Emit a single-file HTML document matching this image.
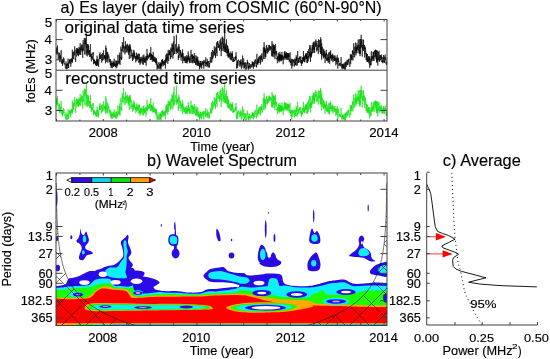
<!DOCTYPE html><html><head><meta charset="utf-8"><style>html,body{margin:0;padding:0;background:#fff;width:550px;height:359px;overflow:hidden}svg{will-change:transform}</style></head><body><svg width="550" height="359" viewBox="0 0 550 359" style="display:block;font-family:'Liberation Sans', sans-serif">
<rect width="550" height="359" fill="#fff"/>
<path d="M56.3,49.7 56.4,52.4 56.6,48.4 56.7,49.7 56.8,54.7 56.9,53.9 57.1,47.2 57.2,53.7 57.3,47.5 57.5,45.4 57.6,51.7 57.7,52.9 57.9,54.6 58.0,55.7 58.1,56.7 58.2,59.3 58.4,55.5 58.5,55.1 58.6,54.1 58.8,52.4 58.9,52.5 59.0,55.8 59.1,56.5 59.3,60.6 59.4,58.1 59.5,55.4 59.7,52.9 59.8,58.6 59.9,62.4 60.0,60.9 60.2,61.3 60.3,58.3 60.4,56.5 60.6,57.2 60.7,55.3 60.8,59.1 61.0,55.3 61.1,52.7 61.2,50.1 61.3,61.4 61.5,61.9 61.6,62.0 61.7,61.6 61.9,63.9 62.0,59.5 62.1,61.8 62.2,63.0 62.4,60.8 62.5,65.9 62.6,59.5 62.8,61.4 62.9,63.6 63.0,62.7 63.1,62.7 63.3,57.4 63.4,58.5 63.5,58.7 63.7,59.0 63.8,62.4 63.9,58.2 64.1,60.5 64.2,62.9 64.3,64.6 64.4,64.4 64.6,63.8 64.7,63.7 64.8,63.3 65.0,64.0 65.1,64.9 65.2,65.7 65.3,67.8 65.5,68.5 65.6,64.8 65.7,64.6 65.9,64.1 66.0,61.4 66.1,64.7 66.3,69.1 66.4,69.2 66.5,65.8 66.6,64.3 66.8,65.9 66.9,65.8 67.0,63.4 67.2,69.2 67.3,66.3 67.4,65.7 67.5,63.7 67.7,65.1 67.8,65.1 67.9,62.8 68.1,58.5 68.2,68.0 68.3,65.1 68.4,64.6 68.6,65.6 68.7,67.9 68.8,62.5 69.0,63.3 69.1,62.3 69.2,63.5 69.4,59.3 69.5,62.0 69.6,60.3 69.7,59.8 69.9,62.7 70.0,62.8 70.1,63.2 70.3,62.6 70.4,60.6 70.5,59.8 70.6,58.8 70.8,66.6 70.9,63.4 71.0,64.0 71.2,60.6 71.3,60.8 71.4,62.2 71.5,59.0 71.7,58.5 71.8,61.2 71.9,58.7 72.1,61.3 72.2,58.2 72.3,49.7 72.5,56.9 72.6,62.7 72.7,59.9 72.8,58.1 73.0,54.5 73.1,51.9 73.2,53.8 73.4,56.1 73.5,59.0 73.6,53.1 73.7,53.6 73.9,52.8 74.0,52.8 74.1,51.4 74.3,55.4 74.4,53.7 74.5,49.0 74.7,46.3 74.8,49.3 74.9,55.4 75.0,57.3 75.2,59.7 75.3,58.3 75.4,58.5 75.6,59.7 75.7,62.1 75.8,50.8 75.9,49.5 76.1,54.2 76.2,55.3 76.3,56.7 76.5,55.0 76.6,48.0 76.7,53.0 76.8,52.6 77.0,50.8 77.1,51.3 77.2,53.0 77.4,51.6 77.5,51.7 77.6,48.4 77.8,55.5 77.9,48.7 78.0,53.9 78.1,49.1 78.3,54.9 78.4,53.7 78.5,56.1 78.7,50.0 78.8,50.7 78.9,49.0 79.0,46.9 79.2,52.6 79.3,53.8 79.4,54.3 79.6,51.7 79.7,51.2 79.8,47.8 79.9,54.7 80.1,45.8 80.2,43.1 80.3,48.2 80.5,47.9 80.6,54.1 80.7,55.0 80.9,52.9 81.0,46.8 81.1,51.5 81.2,49.2 81.4,46.2 81.5,44.7 81.6,48.1 81.8,49.3 81.9,49.4 82.0,50.0 82.1,47.2 82.3,45.0 82.4,44.7 82.5,47.4 82.7,57.9 82.8,48.8 82.9,51.4 83.1,40.1 83.2,43.2 83.3,46.7 83.4,50.3 83.6,48.5 83.7,48.6 83.8,47.9 84.0,43.2 84.1,43.2 84.2,44.0 84.3,37.9 84.5,46.1 84.6,46.7 84.7,54.4 84.9,52.0 85.0,48.5 85.1,40.9 85.2,38.0 85.4,44.3 85.5,39.7 85.6,41.2 85.8,46.0 85.9,48.7 86.0,54.5 86.2,55.3 86.3,47.1 86.4,33.5 86.5,47.5 86.7,44.3 86.8,53.3 86.9,53.4 87.1,50.4 87.2,56.0 87.3,56.4 87.4,51.7 87.6,48.3 87.7,44.0 87.8,50.1 88.0,51.4 88.1,44.4 88.2,54.8 88.3,49.8 88.5,45.9 88.6,45.5 88.7,49.0 88.9,52.5 89.0,50.6 89.1,55.2 89.3,53.6 89.4,50.0 89.5,52.3 89.6,53.5 89.8,57.2 89.9,56.0 90.0,53.4 90.2,57.0 90.3,51.1 90.4,44.2 90.5,52.8 90.7,52.8 90.8,55.2 90.9,54.6 91.1,54.2 91.2,59.7 91.3,61.4 91.5,56.5 91.6,58.5 91.7,54.1 91.8,53.6 92.0,56.4 92.1,56.6 92.2,58.5 92.4,56.4 92.5,57.7 92.6,59.8 92.7,59.7 92.9,54.5 93.0,52.3 93.1,54.6 93.3,52.5 93.4,57.7 93.5,64.2 93.6,62.5 93.8,59.0 93.9,61.0 94.0,59.8 94.2,63.5 94.3,60.0 94.4,61.0 94.6,63.0 94.7,59.8 94.8,63.2 94.9,61.7 95.1,63.3 95.2,63.3 95.3,62.1 95.5,65.0 95.6,61.1 95.7,63.2 95.8,62.4 96.0,63.4 96.1,65.1 96.2,65.9 96.4,64.7 96.5,65.9 96.6,59.3 96.7,64.2 96.9,64.4 97.0,63.9 97.1,55.7 97.3,62.6 97.4,64.8 97.5,59.4 97.7,62.4 97.8,63.2 97.9,65.9 98.0,62.0 98.2,58.9 98.3,61.4 98.4,61.9 98.6,66.7 98.7,64.2 98.8,63.3 98.9,62.2 99.1,61.6 99.2,59.3 99.3,56.1 99.5,53.9 99.6,59.2 99.7,57.4 99.9,58.9 100.0,52.3 100.1,56.4 100.2,56.0 100.4,58.6 100.5,58.4 100.6,58.9 100.8,57.4 100.9,55.9 101.0,55.0 101.1,56.4 101.3,57.7 101.4,55.3 101.5,54.2 101.7,62.6 101.8,59.0 101.9,60.1 102.0,59.2 102.2,59.3 102.3,57.4 102.4,56.8 102.6,60.8 102.7,53.1 102.8,56.7 103.0,54.2 103.1,54.6 103.2,53.9 103.3,52.6 103.5,50.3 103.6,50.7 103.7,59.7 103.9,57.5 104.0,58.7 104.1,55.5 104.2,55.7 104.4,57.2 104.5,55.0 104.6,58.3 104.8,57.0 104.9,56.8 105.0,56.1 105.1,55.5 105.3,60.6 105.4,56.3 105.5,63.4 105.7,57.8 105.8,45.5 105.9,58.8 106.1,49.4 106.2,48.0 106.3,54.3 106.4,55.4 106.6,58.9 106.7,59.3 106.8,62.1 107.0,58.8 107.1,53.1 107.2,51.8 107.3,58.6 107.5,57.2 107.6,59.3 107.7,52.4 107.9,62.7 108.0,59.2 108.1,59.4 108.3,57.8 108.4,55.2 108.5,54.5 108.6,54.6 108.8,56.9 108.9,57.4 109.0,56.6 109.2,57.8 109.3,59.4 109.4,62.0 109.5,59.3 109.7,59.4 109.8,58.9 109.9,60.6 110.1,62.5 110.2,62.2 110.3,65.1 110.4,59.3 110.6,62.8 110.7,64.1 110.8,65.8 111.0,63.6 111.1,63.7 111.2,68.1 111.4,63.2 111.5,62.5 111.6,65.2 111.7,66.6 111.9,60.7 112.0,64.4 112.1,66.4 112.3,68.2 112.4,66.1 112.5,65.8 112.6,62.8 112.8,63.8 112.9,64.3 113.0,63.0 113.2,66.6 113.3,65.4 113.4,61.5 113.5,66.4 113.7,66.9 113.8,62.3 113.9,62.9 114.1,66.3 114.2,58.7 114.3,65.0 114.5,65.8 114.6,64.6 114.7,63.4 114.8,64.2 115.0,65.4 115.1,64.3 115.2,65.9 115.4,64.5 115.5,67.0 115.6,64.7 115.7,60.5 115.9,66.0 116.0,66.8 116.1,68.3 116.3,67.8 116.4,61.6 116.5,60.7 116.7,64.2 116.8,63.8 116.9,67.2 117.0,61.1 117.2,61.0 117.3,64.7 117.4,65.7 117.6,63.1 117.7,65.2 117.8,62.3 117.9,54.7 118.1,60.2 118.2,61.9 118.3,60.9 118.5,62.1 118.6,63.5 118.7,63.8 118.8,61.1 119.0,60.6 119.1,59.7 119.2,55.1 119.4,55.1 119.5,57.3 119.6,63.5 119.8,52.5 119.9,58.4 120.0,65.0 120.1,60.9 120.3,56.8 120.4,58.5 120.5,57.4 120.7,57.6 120.8,53.9 120.9,46.6 121.0,50.9 121.2,49.3 121.3,51.3 121.4,56.0 121.6,60.1 121.7,57.3 121.8,58.5 121.9,50.9 122.1,47.6 122.2,42.1 122.3,42.8 122.5,43.9 122.6,43.8 122.7,51.5 122.9,48.4 123.0,45.0 123.1,47.3 123.2,48.5 123.4,45.0 123.5,41.5 123.6,37.0 123.8,49.0 123.9,52.6 124.0,51.1 124.1,47.8 124.3,48.2 124.4,48.2 124.5,46.5 124.7,49.8 124.8,50.4 124.9,54.3 125.1,53.2 125.2,49.2 125.3,43.9 125.4,41.2 125.6,46.2 125.7,48.6 125.8,45.8 126.0,52.4 126.1,50.1 126.2,46.9 126.3,44.9 126.5,47.2 126.6,48.9 126.7,48.9 126.9,51.1 127.0,52.3 127.1,46.6 127.2,43.7 127.4,47.6 127.5,50.5 127.6,50.4 127.8,50.1 127.9,44.7 128.0,49.9 128.2,52.6 128.3,53.1 128.4,51.8 128.5,45.9 128.7,48.9 128.8,55.0 128.9,49.9 129.1,50.6 129.2,46.4 129.3,59.1 129.4,54.1 129.6,44.5 129.7,51.7 129.8,50.1 130.0,48.1 130.1,47.2 130.2,44.5 130.3,51.2 130.5,47.4 130.6,53.2 130.7,54.4 130.9,58.2 131.0,55.7 131.1,55.0 131.3,56.4 131.4,55.2 131.5,51.2 131.6,49.5 131.8,50.2 131.9,51.4 132.0,54.4 132.2,54.0 132.3,56.0 132.4,54.9 132.5,61.0 132.7,58.6 132.8,58.6 132.9,52.9 133.1,58.9 133.2,59.9 133.3,56.9 133.5,56.7 133.6,55.9 133.7,53.5 133.8,49.8 134.0,58.4 134.1,51.4 134.2,57.0 134.4,55.2 134.5,56.1 134.6,52.9 134.7,56.1 134.9,57.4 135.0,57.7 135.1,58.3 135.3,56.4 135.4,58.5 135.5,56.3 135.6,58.4 135.8,62.4 135.9,58.9 136.0,57.6 136.2,58.9 136.3,54.8 136.4,52.6 136.6,59.9 136.7,60.8 136.8,59.6 136.9,56.3 137.1,57.8 137.2,55.2 137.3,58.3 137.5,57.1 137.6,56.3 137.7,60.2 137.8,56.1 138.0,53.8 138.1,58.9 138.2,53.7 138.4,58.6 138.5,57.7 138.6,62.6 138.7,61.6 138.9,61.8 139.0,61.5 139.1,62.2 139.3,60.3 139.4,58.7 139.5,53.8 139.7,62.5 139.8,59.2 139.9,60.3 140.0,64.9 140.2,62.6 140.3,59.8 140.4,57.2 140.6,61.2 140.7,63.2 140.8,63.5 140.9,59.9 141.1,58.6 141.2,60.6 141.3,61.0 141.5,56.8 141.6,57.5 141.7,57.4 141.9,61.6 142.0,62.4 142.1,60.0 142.2,59.1 142.4,58.4 142.5,58.3 142.6,61.4 142.8,64.3 142.9,55.4 143.0,59.2 143.1,62.4 143.3,64.8 143.4,64.6 143.5,63.8 143.7,58.0 143.8,59.2 143.9,54.6 144.0,61.4 144.2,57.1 144.3,61.6 144.4,59.9 144.6,60.5 144.7,62.6 144.8,60.9 145.0,58.8 145.1,60.9 145.2,62.8 145.3,59.4 145.5,57.9 145.6,59.8 145.7,60.7 145.9,56.1 146.0,59.0 146.1,65.7 146.2,63.2 146.4,55.8 146.5,56.3 146.6,57.3 146.8,59.3 146.9,57.0 147.0,48.9 147.1,58.3 147.3,58.3 147.4,60.5 147.5,56.2 147.7,54.3 147.8,57.2 147.9,56.8 148.1,57.7 148.2,56.2 148.3,57.5 148.4,57.5 148.6,57.4 148.7,58.7 148.8,58.2 149.0,54.9 149.1,56.8 149.2,55.3 149.3,57.2 149.5,52.8 149.6,56.4 149.7,55.0 149.9,55.9 150.0,53.2 150.1,55.1 150.3,58.1 150.4,60.0 150.5,58.8 150.6,53.7 150.8,47.1 150.9,52.8 151.0,56.3 151.2,54.7 151.3,58.5 151.4,60.0 151.5,53.8 151.7,58.6 151.8,57.1 151.9,57.1 152.1,56.6 152.2,54.9 152.3,61.8 152.4,55.3 152.6,56.9 152.7,55.3 152.8,59.4 153.0,60.6 153.1,57.5 153.2,51.9 153.4,56.7 153.5,57.7 153.6,61.2 153.7,57.7 153.9,56.2 154.0,61.4 154.1,58.9 154.3,61.8 154.4,61.3 154.5,58.9 154.6,57.0 154.8,57.4 154.9,58.0 155.0,59.8 155.2,59.7 155.3,61.4 155.4,60.9 155.5,62.7 155.7,57.6 155.8,62.7 155.9,59.2 156.1,60.9 156.2,64.7 156.3,60.4 156.5,58.3 156.6,62.9 156.7,63.8 156.8,61.3 157.0,63.6 157.1,69.5 157.2,63.9 157.4,67.0 157.5,67.5 157.6,66.0 157.7,65.4 157.9,66.2 158.0,65.5 158.1,69.1 158.3,67.2 158.4,66.3 158.5,66.3 158.7,67.9 158.8,63.1 158.9,63.7 159.0,62.1 159.2,64.4 159.3,64.9 159.4,65.2 159.6,64.0 159.7,66.7 159.8,69.2 159.9,64.1 160.1,66.5 160.2,67.6 160.3,68.6 160.5,64.0 160.6,62.3 160.7,67.2 160.8,63.7 161.0,69.5 161.1,68.1 161.2,63.6 161.4,66.3 161.5,62.9 161.6,62.1 161.8,60.4 161.9,64.7 162.0,60.2 162.1,61.8 162.3,59.0 162.4,59.4 162.5,63.7 162.7,59.5 162.8,60.9 162.9,66.5 163.0,65.8 163.2,62.5 163.3,62.9 163.4,61.1 163.6,62.2 163.7,65.3 163.8,63.7 163.9,64.3 164.1,61.8 164.2,62.1 164.3,62.2 164.5,64.9 164.6,60.2 164.7,60.7 164.9,61.7 165.0,62.9 165.1,59.7 165.2,59.7 165.4,68.5 165.5,66.0 165.6,59.9 165.8,57.4 165.9,54.7 166.0,62.1 166.1,62.8 166.3,58.8 166.4,59.9 166.5,57.0 166.7,61.3 166.8,53.6 166.9,57.4 167.1,59.7 167.2,53.6 167.3,54.5 167.4,57.4 167.6,56.9 167.7,62.3 167.8,63.8 168.0,54.5 168.1,50.1 168.2,52.4 168.3,55.2 168.5,55.6 168.6,56.3 168.7,61.0 168.9,53.1 169.0,55.2 169.1,49.8 169.2,54.2 169.4,54.6 169.5,52.7 169.6,50.6 169.8,54.5 169.9,55.2 170.0,51.4 170.2,52.2 170.3,51.8 170.4,51.3 170.5,59.2 170.7,55.8 170.8,57.7 170.9,47.6 171.1,56.2 171.2,57.1 171.3,49.2 171.4,50.5 171.6,48.4 171.7,47.4 171.8,47.3 172.0,43.4 172.1,46.2 172.2,51.7 172.3,51.6 172.5,46.8 172.6,44.7 172.7,54.9 172.9,58.6 173.0,55.2 173.1,48.1 173.3,49.2 173.4,41.6 173.5,55.3 173.6,53.9 173.8,52.8 173.9,50.1 174.0,35.8 174.2,36.5 174.3,50.6 174.4,51.6 174.5,54.0 174.7,49.5 174.8,48.9 174.9,49.0 175.1,47.3 175.2,45.8 175.3,45.9 175.5,44.3 175.6,44.5 175.7,48.7 175.8,51.1 176.0,50.5 176.1,49.3 176.2,54.1 176.4,34.7 176.5,41.8 176.6,48.7 176.7,51.8 176.9,48.2 177.0,49.7 177.1,50.4 177.3,49.1 177.4,50.3 177.5,53.0 177.6,49.6 177.8,50.7 177.9,49.9 178.0,46.7 178.2,50.0 178.3,60.1 178.4,55.9 178.6,55.4 178.7,58.1 178.8,43.9 178.9,50.2 179.1,46.4 179.2,49.7 179.3,51.4 179.5,51.3 179.6,49.7 179.7,51.9 179.8,55.7 180.0,57.5 180.1,50.0 180.2,50.0 180.4,55.4 180.5,53.2 180.6,50.5 180.7,52.4 180.9,52.4 181.0,55.7 181.1,60.6 181.3,56.1 181.4,55.9 181.5,54.4 181.7,57.0 181.8,54.9 181.9,52.7 182.0,57.3 182.2,55.6 182.3,55.7 182.4,57.0 182.6,49.4 182.7,63.3 182.8,52.9 182.9,54.1 183.1,53.6 183.2,54.0 183.3,54.3 183.5,58.2 183.6,56.7 183.7,59.8 183.9,60.8 184.0,58.2 184.1,60.9 184.2,59.9 184.4,59.6 184.5,58.0 184.6,60.1 184.8,60.9 184.9,56.1 185.0,58.9 185.1,62.8 185.3,57.9 185.4,56.6 185.5,58.7 185.7,62.1 185.8,62.7 185.9,60.7 186.0,57.1 186.2,57.5 186.3,57.5 186.4,63.0 186.6,62.6 186.7,58.5 186.8,55.1 187.0,59.5 187.1,63.5 187.2,59.8 187.3,57.2 187.5,61.7 187.6,61.6 187.7,57.3 187.9,58.9 188.0,56.3 188.1,59.5 188.2,51.4 188.4,56.5 188.5,56.8 188.6,54.5 188.8,59.9 188.9,57.5 189.0,60.7 189.1,59.2 189.3,61.8 189.4,58.2 189.5,63.1 189.7,59.1 189.8,59.9 189.9,56.5 190.1,56.8 190.2,56.3 190.3,62.8 190.4,61.4 190.6,59.1 190.7,57.8 190.8,57.6 191.0,49.8 191.1,53.8 191.2,56.4 191.3,56.0 191.5,54.5 191.6,62.8 191.7,62.6 191.9,62.0 192.0,55.5 192.1,55.6 192.3,54.7 192.4,59.1 192.5,54.6 192.6,56.8 192.8,63.3 192.9,60.1 193.0,62.8 193.2,58.1 193.3,61.0 193.4,58.2 193.5,55.9 193.7,58.0 193.8,56.5 193.9,55.9 194.1,57.8 194.2,58.4 194.3,53.1 194.4,62.8 194.6,57.7 194.7,57.2 194.8,57.2 195.0,58.5 195.1,62.9 195.2,61.1 195.4,63.0 195.5,64.8 195.6,63.5 195.7,64.2 195.9,55.3 196.0,60.4 196.1,60.2 196.3,58.4 196.4,64.3 196.5,65.3 196.6,60.3 196.8,61.6 196.9,56.2 197.0,56.6 197.2,59.7 197.3,61.6 197.4,59.6 197.5,65.6 197.7,58.4 197.8,57.1 197.9,60.3 198.1,63.7 198.2,60.9 198.3,66.1 198.5,63.6 198.6,64.2 198.7,64.9 198.8,63.0 199.0,60.5 199.1,61.4 199.2,65.3 199.4,66.7 199.5,64.9 199.6,69.5 199.7,63.1 199.9,64.2 200.0,63.0 200.1,67.5 200.3,66.9 200.4,61.1 200.5,62.2 200.7,60.9 200.8,65.3 200.9,63.4 201.0,66.1 201.2,67.3 201.3,63.2 201.4,62.6 201.6,64.6 201.7,68.7 201.8,63.9 201.9,63.5 202.1,62.2 202.2,60.9 202.3,64.1 202.5,64.8 202.6,63.7 202.7,63.0 202.8,61.7 203.0,63.2 203.1,63.9 203.2,65.1 203.4,60.3 203.5,65.6 203.6,65.3 203.8,68.6 203.9,62.7 204.0,61.7 204.1,62.7 204.3,61.9 204.4,62.3 204.5,62.3 204.7,63.1 204.8,60.1 204.9,63.4 205.0,65.1 205.2,66.3 205.3,65.3 205.4,66.0 205.6,62.2 205.7,60.2 205.8,57.3 205.9,64.3 206.1,62.3 206.2,62.8 206.3,63.1 206.5,64.1 206.6,62.5 206.7,66.5 206.9,66.7 207.0,65.8 207.1,63.0 207.2,58.9 207.4,64.7 207.5,65.8 207.6,61.8 207.8,62.5 207.9,61.2 208.0,65.7 208.1,67.4 208.3,65.8 208.4,63.0 208.5,61.8 208.7,61.0 208.8,61.5 208.9,65.0 209.1,66.7 209.2,67.7 209.3,65.2 209.4,66.7 209.6,63.2 209.7,64.4 209.8,61.2 210.0,61.0 210.1,61.7 210.2,60.2 210.3,57.0 210.5,60.6 210.6,60.1 210.7,62.6 210.9,60.7 211.0,61.8 211.1,62.0 211.2,61.7 211.4,51.9 211.5,60.2 211.6,62.7 211.8,61.9 211.9,61.7 212.0,61.0 212.2,58.2 212.3,57.3 212.4,52.2 212.5,50.0 212.7,59.3 212.8,56.8 212.9,55.4 213.1,57.1 213.2,57.4 213.3,54.7 213.4,54.3 213.6,51.3 213.7,51.6 213.8,55.6 214.0,55.2 214.1,51.6 214.2,47.9 214.3,46.2 214.5,53.8 214.6,51.1 214.7,49.9 214.9,55.1 215.0,54.3 215.1,55.2 215.3,55.8 215.4,53.0 215.5,58.1 215.6,52.8 215.8,48.1 215.9,50.5 216.0,46.9 216.2,50.1 216.3,53.3 216.4,43.4 216.5,42.5 216.7,48.4 216.8,51.6 216.9,51.5 217.1,56.1 217.2,47.0 217.3,42.8 217.5,41.5 217.6,43.3 217.7,44.4 217.8,41.1 218.0,46.2 218.1,47.9 218.2,47.1 218.4,45.8 218.5,47.4 218.6,43.7 218.7,44.0 218.9,44.4 219.0,47.3 219.1,45.1 219.3,45.6 219.4,50.4 219.5,50.7 219.6,45.2 219.8,44.9 219.9,40.3 220.0,43.6 220.2,49.1 220.3,49.0 220.4,45.4 220.6,38.7 220.7,42.8 220.8,42.6 220.9,49.5 221.1,56.1 221.2,53.8 221.3,53.6 221.5,47.4 221.6,46.3 221.7,43.2 221.8,50.5 222.0,40.2 222.1,36.9 222.2,43.5 222.4,42.0 222.5,43.9 222.6,37.3 222.7,36.7 222.9,46.7 223.0,51.0 223.1,48.5 223.3,46.9 223.4,43.9 223.5,44.9 223.7,48.2 223.8,38.6 223.9,44.8 224.0,47.9 224.2,51.8 224.3,47.0 224.4,48.6 224.6,45.1 224.7,32.1 224.8,47.8 224.9,51.7 225.1,51.9 225.2,50.2 225.3,45.8 225.5,50.6 225.6,43.6 225.7,52.1 225.8,49.3 226.0,51.9 226.1,52.9 226.2,51.8 226.4,47.8 226.5,39.3 226.6,49.6 226.8,51.3 226.9,53.3 227.0,52.8 227.1,51.7 227.3,56.0 227.4,45.2 227.5,53.2 227.7,52.2 227.8,46.1 227.9,48.7 228.0,49.5 228.2,57.7 228.3,49.8 228.4,53.1 228.6,48.8 228.7,50.3 228.8,56.5 229.0,54.2 229.1,57.3 229.2,54.7 229.3,57.1 229.5,56.7 229.6,56.7 229.7,53.0 229.9,56.7 230.0,59.1 230.1,58.9 230.2,51.6 230.4,53.5 230.5,55.4 230.6,56.5 230.8,60.1 230.9,58.6 231.0,59.0 231.1,57.7 231.3,53.3 231.4,60.3 231.5,58.6 231.7,56.7 231.8,53.7 231.9,53.7 232.1,56.3 232.2,51.2 232.3,58.2 232.4,53.7 232.6,58.5 232.7,61.9 232.8,61.8 233.0,59.4 233.1,57.8 233.2,56.8 233.3,61.1 233.5,61.1 233.6,58.7 233.7,62.0 233.9,60.2 234.0,60.2 234.1,60.9 234.2,60.3 234.4,59.7 234.5,61.1 234.6,60.7 234.8,59.5 234.9,57.0 235.0,58.5 235.2,58.2 235.3,58.5 235.4,59.0 235.5,56.3 235.7,60.3 235.8,54.2 235.9,53.1 236.1,52.2 236.2,57.7 236.3,56.7 236.4,60.3 236.6,68.5 236.7,65.4 236.8,64.0 237.0,64.6 237.1,62.0 237.2,61.6 237.4,62.0 237.5,60.5 237.6,68.1 237.7,62.0 237.9,65.7 238.0,64.5 238.1,62.6 238.3,61.1 238.4,60.2 238.5,59.6 238.6,60.7 238.8,60.9 238.9,60.9 239.0,60.6 239.2,62.8 239.3,61.7 239.4,61.0 239.5,61.1 239.7,61.8 239.8,62.3 239.9,66.7 240.1,63.1 240.2,65.5 240.3,62.8 240.5,60.3 240.6,63.5 240.7,62.4 240.8,64.0 241.0,59.2 241.1,60.5 241.2,63.7 241.4,68.8 241.5,65.8 241.6,65.6 241.7,65.3 241.9,61.6 242.0,67.5 242.1,65.8 242.3,64.6 242.4,64.0 242.5,63.5 242.6,55.5 242.8,64.3 242.9,65.1 243.0,63.8 243.2,62.9 243.3,64.5 243.4,64.3 243.6,61.7 243.7,58.4 243.8,62.6 243.9,68.6 244.1,65.1 244.2,65.7 244.3,66.7 244.5,63.2 244.6,64.2 244.7,68.2 244.8,66.4 245.0,62.2 245.1,63.0 245.2,63.9 245.4,62.5 245.5,66.5 245.6,65.3 245.8,64.7 245.9,69.5 246.0,68.2 246.1,69.5 246.3,67.3 246.4,67.3 246.5,66.8 246.7,65.7 246.8,64.0 246.9,62.8 247.0,68.6 247.2,66.9 247.3,60.0 247.4,59.8 247.6,63.8 247.7,63.0 247.8,61.9 247.9,64.2 248.1,63.5 248.2,63.2 248.3,64.8 248.5,69.5 248.6,65.4 248.7,65.7 248.9,68.8 249.0,66.1 249.1,67.1 249.2,65.2 249.4,63.0 249.5,66.3 249.6,67.1 249.8,66.4 249.9,67.2 250.0,66.0 250.1,68.4 250.3,68.8 250.4,66.7 250.5,67.3 250.7,66.2 250.8,64.2 250.9,65.9 251.0,65.1 251.2,64.3 251.3,65.5 251.4,65.7 251.6,66.3 251.7,67.5 251.8,67.0 252.0,65.5 252.1,67.2 252.2,63.2 252.3,61.3 252.5,64.9 252.6,62.1 252.7,62.1 252.9,64.9 253.0,62.2 253.1,65.8 253.2,62.9 253.4,66.1 253.5,68.7 253.6,65.4 253.8,64.3 253.9,65.1 254.0,61.9 254.2,62.9 254.3,66.7 254.4,65.4 254.5,65.7 254.7,62.4 254.8,60.7 254.9,63.5 255.1,61.6 255.2,59.4 255.3,60.6 255.4,59.6 255.6,63.0 255.7,64.0 255.8,64.0 256.0,63.8 256.1,66.3 256.2,65.0 256.3,66.6 256.5,65.0 256.6,67.4 256.7,63.9 256.9,53.8 257.0,64.1 257.1,62.4 257.3,64.0 257.4,59.8 257.5,59.9 257.6,59.3 257.8,65.1 257.9,62.5 258.0,63.2 258.2,59.8 258.3,62.4 258.4,58.3 258.5,63.0 258.7,60.4 258.8,59.8 258.9,56.9 259.1,60.4 259.2,60.2 259.3,57.3 259.4,55.8 259.6,56.0 259.7,58.2 259.8,57.5 260.0,63.0 260.1,61.2 260.2,61.4 260.4,64.5 260.5,55.3 260.6,56.3 260.7,57.8 260.9,62.3 261.0,58.6 261.1,58.1 261.3,59.5 261.4,55.9 261.5,59.3 261.6,53.8 261.8,54.1 261.9,53.5 262.0,54.5 262.2,58.4 262.3,59.5 262.4,61.6 262.6,59.6 262.7,60.2 262.8,58.7 262.9,55.5 263.1,52.1 263.2,51.8 263.3,47.3 263.5,52.4 263.6,57.6 263.7,59.0 263.8,51.0 264.0,50.4 264.1,42.3 264.2,47.8 264.4,52.6 264.5,47.2 264.6,50.9 264.7,52.6 264.9,56.9 265.0,59.0 265.1,48.2 265.3,56.7 265.4,50.3 265.5,53.5 265.7,53.9 265.8,57.1 265.9,50.8 266.0,49.5 266.2,50.8 266.3,46.2 266.4,47.3 266.6,47.2 266.7,44.9 266.8,51.9 266.9,53.5 267.1,49.7 267.2,47.5 267.3,49.1 267.5,52.6 267.6,53.5 267.7,48.6 267.8,49.6 268.0,47.8 268.1,50.6 268.2,51.7 268.4,52.1 268.5,50.8 268.6,49.4 268.8,50.5 268.9,44.9 269.0,47.7 269.1,50.6 269.3,45.0 269.4,47.3 269.5,46.0 269.7,46.6 269.8,47.8 269.9,47.2 270.0,49.4 270.2,49.0 270.3,50.3 270.4,46.2 270.6,48.4 270.7,48.4 270.8,47.3 271.0,49.1 271.1,47.9 271.2,46.4 271.3,48.7 271.5,51.2 271.6,56.3 271.7,51.2 271.9,51.0 272.0,41.1 272.1,47.6 272.2,53.4 272.4,55.5 272.5,54.6 272.6,56.7 272.8,50.8 272.9,54.2 273.0,43.7 273.1,51.1 273.3,44.8 273.4,51.4 273.5,45.2 273.7,53.1 273.8,50.7 273.9,57.1 274.1,52.2 274.2,52.0 274.3,54.2 274.4,45.2 274.6,50.1 274.7,46.9 274.8,54.3 275.0,59.2 275.1,52.9 275.2,49.4 275.3,46.8 275.5,46.7 275.6,43.9 275.7,53.4 275.9,50.8 276.0,51.9 276.1,55.5 276.2,53.0 276.4,52.5 276.5,53.1 276.6,51.3 276.8,57.4 276.9,59.4 277.0,58.1 277.2,58.9 277.3,58.2 277.4,63.2 277.5,56.2 277.7,58.7 277.8,59.5 277.9,57.9 278.1,57.5 278.2,57.5 278.3,52.8 278.4,57.5 278.6,60.5 278.7,60.8 278.8,54.2 279.0,61.0 279.1,62.3 279.2,61.1 279.4,56.1 279.5,60.2 279.6,54.3 279.7,55.8 279.9,51.9 280.0,61.3 280.1,57.3 280.3,54.1 280.4,59.8 280.5,55.3 280.6,55.9 280.8,58.2 280.9,59.9 281.0,61.2 281.2,55.0 281.3,59.4 281.4,58.1 281.5,55.2 281.7,60.5 281.8,57.8 281.9,52.0 282.1,60.3 282.2,57.9 282.3,59.0 282.5,58.4 282.6,54.9 282.7,57.5 282.8,55.9 283.0,56.2 283.1,57.5 283.2,64.3 283.4,57.9 283.5,59.0 283.6,56.9 283.7,58.5 283.9,58.8 284.0,59.7 284.1,57.2 284.3,51.6 284.4,56.6 284.5,55.9 284.6,57.9 284.8,52.9 284.9,53.7 285.0,51.3 285.2,59.6 285.3,56.0 285.4,54.6 285.6,57.5 285.7,53.4 285.8,55.1 285.9,58.1 286.1,57.0 286.2,52.2 286.3,56.9 286.5,58.4 286.6,54.3 286.7,52.6 286.8,59.9 287.0,56.3 287.1,57.8 287.2,55.0 287.4,53.1 287.5,55.3 287.6,58.5 287.8,59.8 287.9,53.0 288.0,56.1 288.1,54.3 288.3,58.8 288.4,59.7 288.5,53.7 288.7,56.8 288.8,54.7 288.9,57.0 289.0,53.1 289.2,59.6 289.3,62.2 289.4,60.0 289.6,60.4 289.7,59.4 289.8,61.1 289.9,56.8 290.1,52.3 290.2,56.7 290.3,57.7 290.5,62.7 290.6,61.0 290.7,62.9 290.9,62.1 291.0,65.4 291.1,63.3 291.2,59.9 291.4,58.7 291.5,60.8 291.6,65.0 291.8,68.7 291.9,63.5 292.0,59.6 292.1,61.0 292.3,59.1 292.4,59.3 292.5,61.4 292.7,66.2 292.8,65.3 292.9,62.5 293.0,60.9 293.2,61.8 293.3,61.3 293.4,59.4 293.6,59.8 293.7,62.5 293.8,60.1 294.0,61.4 294.1,62.7 294.2,64.2 294.3,66.7 294.5,63.2 294.6,62.0 294.7,58.5 294.9,65.5 295.0,63.7 295.1,62.4 295.2,64.3 295.4,64.8 295.5,62.8 295.6,59.2 295.8,64.8 295.9,63.8 296.0,63.1 296.2,55.2 296.3,60.7 296.4,57.0 296.5,60.7 296.7,58.7 296.8,59.4 296.9,65.9 297.1,63.7 297.2,64.7 297.3,62.2 297.4,63.4 297.6,53.7 297.7,51.0 297.8,58.9 298.0,59.7 298.1,60.8 298.2,62.9 298.3,62.6 298.5,58.1 298.6,60.3 298.7,62.7 298.9,60.1 299.0,61.7 299.1,62.3 299.3,58.8 299.4,57.1 299.5,59.3 299.6,59.3 299.8,58.3 299.9,56.3 300.0,58.0 300.2,57.0 300.3,58.5 300.4,59.2 300.5,60.2 300.7,62.7 300.8,58.3 300.9,56.5 301.1,63.3 301.2,60.5 301.3,60.6 301.4,66.0 301.6,65.4 301.7,60.3 301.8,60.3 302.0,60.4 302.1,64.0 302.2,60.5 302.4,61.6 302.5,63.0 302.6,57.6 302.7,57.9 302.9,60.3 303.0,57.0 303.1,58.9 303.3,58.2 303.4,51.1 303.5,53.9 303.6,61.1 303.8,57.2 303.9,59.2 304.0,61.9 304.2,57.7 304.3,57.9 304.4,61.6 304.6,55.7 304.7,56.4 304.8,62.3 304.9,60.7 305.1,60.2 305.2,58.0 305.3,55.1 305.5,54.3 305.6,59.2 305.7,58.3 305.8,53.7 306.0,56.7 306.1,57.2 306.2,53.0 306.4,58.8 306.5,54.5 306.6,58.5 306.7,56.9 306.9,59.7 307.0,62.7 307.1,59.2 307.3,63.1 307.4,52.2 307.5,51.1 307.7,60.1 307.8,60.9 307.9,57.7 308.0,61.6 308.2,56.0 308.3,58.1 308.4,55.3 308.6,49.1 308.7,52.3 308.8,52.8 308.9,52.0 309.1,58.5 309.2,54.2 309.3,55.6 309.5,52.2 309.6,53.9 309.7,45.1 309.8,49.2 310.0,47.9 310.1,56.8 310.2,55.4 310.4,53.5 310.5,61.8 310.6,53.4 310.8,49.0 310.9,45.4 311.0,52.6 311.1,55.1 311.3,55.4 311.4,51.8 311.5,57.3 311.7,51.8 311.8,54.4 311.9,51.4 312.0,48.8 312.2,49.8 312.3,48.7 312.4,53.1 312.6,45.0 312.7,49.8 312.8,49.0 313.0,45.6 313.1,42.7 313.2,47.0 313.3,48.6 313.5,44.6 313.6,41.7 313.7,52.8 313.9,49.3 314.0,42.8 314.1,49.7 314.2,46.9 314.4,49.8 314.5,46.7 314.6,53.0 314.8,47.9 314.9,42.9 315.0,41.2 315.1,46.4 315.3,46.6 315.4,44.7 315.5,45.2 315.7,46.4 315.8,39.5 315.9,45.1 316.1,43.0 316.2,45.2 316.3,46.8 316.4,47.4 316.6,51.4 316.7,46.0 316.8,46.0 317.0,41.0 317.1,45.8 317.2,44.8 317.3,46.2 317.5,49.1 317.6,50.4 317.7,49.8 317.9,47.9 318.0,45.9 318.1,48.4 318.2,53.4 318.4,54.1 318.5,39.2 318.6,47.4 318.8,47.6 318.9,45.0 319.0,46.3 319.2,46.2 319.3,45.7 319.4,46.9 319.5,40.2 319.7,46.7 319.8,50.4 319.9,51.6 320.1,51.1 320.2,51.2 320.3,51.6 320.4,53.5 320.6,37.3 320.7,49.7 320.8,53.7 321.0,39.3 321.1,46.5 321.2,49.8 321.4,47.6 321.5,50.5 321.6,59.6 321.7,43.2 321.9,55.1 322.0,52.3 322.1,51.4 322.3,46.9 322.4,51.1 322.5,51.5 322.6,53.4 322.8,55.2 322.9,56.4 323.0,56.1 323.2,54.7 323.3,50.1 323.4,53.0 323.5,58.4 323.7,48.7 323.8,50.9 323.9,53.3 324.1,56.4 324.2,55.2 324.3,56.9 324.5,52.9 324.6,55.7 324.7,50.9 324.8,53.8 325.0,59.3 325.1,63.1 325.2,53.7 325.4,58.2 325.5,54.5 325.6,55.6 325.7,58.3 325.9,56.7 326.0,55.8 326.1,52.4 326.3,49.9 326.4,55.1 326.5,52.8 326.6,60.8 326.8,57.8 326.9,59.9 327.0,58.5 327.2,60.2 327.3,58.2 327.4,56.4 327.6,54.4 327.7,58.1 327.8,61.1 327.9,57.8 328.1,60.3 328.2,62.9 328.3,59.4 328.5,57.8 328.6,52.5 328.7,60.6 328.8,61.8 329.0,62.0 329.1,56.9 329.2,60.0 329.4,59.1 329.5,58.9 329.6,63.9 329.8,63.2 329.9,51.7 330.0,58.2 330.1,52.2 330.3,58.0 330.4,58.3 330.5,52.6 330.7,50.4 330.8,57.3 330.9,57.9 331.0,57.2 331.2,60.6 331.3,60.4 331.4,59.6 331.6,55.9 331.7,54.6 331.8,56.8 331.9,55.4 332.1,60.5 332.2,57.6 332.3,57.1 332.5,55.4 332.6,58.7 332.7,53.7 332.9,58.1 333.0,62.2 333.1,59.7 333.2,59.8 333.4,59.8 333.5,60.0 333.6,57.3 333.8,56.2 333.9,58.1 334.0,55.2 334.1,55.9 334.3,61.0 334.4,60.4 334.5,57.8 334.7,57.9 334.8,59.7 334.9,60.9 335.0,55.5 335.2,56.7 335.3,60.2 335.4,58.5 335.6,58.1 335.7,62.3 335.8,65.3 336.0,61.9 336.1,61.6 336.2,57.7 336.3,62.2 336.5,61.5 336.6,61.2 336.7,60.5 336.9,64.1 337.0,57.8 337.1,60.2 337.2,55.2 337.4,60.7 337.5,63.0 337.6,63.4 337.8,68.6 337.9,65.4 338.0,59.7 338.2,61.6 338.3,61.7 338.4,57.8 338.5,59.7 338.7,61.9 338.8,61.2 338.9,65.8 339.1,64.9 339.2,64.0 339.3,63.9 339.4,64.5 339.6,62.9 339.7,64.1 339.8,64.9 340.0,65.1 340.1,66.3 340.2,63.1 340.3,63.0 340.5,66.1 340.6,65.8 340.7,65.9 340.9,65.7 341.0,63.0 341.1,57.1 341.3,63.4 341.4,63.7 341.5,65.8 341.6,66.3 341.8,67.8 341.9,65.9 342.0,65.5 342.2,69.5 342.3,63.9 342.4,66.0 342.5,64.4 342.7,64.0 342.8,67.0 342.9,68.1 343.1,65.2 343.2,65.5 343.3,63.7 343.4,68.5 343.6,66.1 343.7,65.4 343.8,68.5 344.0,68.1 344.1,68.1 344.2,63.4 344.4,67.9 344.5,69.2 344.6,69.5 344.7,66.0 344.9,64.3 345.0,62.2 345.1,64.0 345.3,65.0 345.4,63.1 345.5,69.5 345.6,65.4 345.8,65.0 345.9,64.4 346.0,61.4 346.2,63.2 346.3,62.0 346.4,65.7 346.6,67.0 346.7,62.1 346.8,61.6 346.9,61.8 347.1,59.7 347.2,61.2 347.3,61.2 347.5,60.5 347.6,65.0 347.7,62.2 347.8,65.1 348.0,63.7 348.1,61.5 348.2,62.1 348.4,62.3 348.5,59.6 348.6,61.3 348.7,59.7 348.9,58.6 349.0,61.2 349.1,61.7 349.3,63.0 349.4,62.6 349.5,64.1 349.7,65.5 349.8,66.9 349.9,62.8 350.0,59.2 350.2,59.7 350.3,54.2 350.4,57.6 350.6,59.0 350.7,64.2 350.8,56.7 350.9,56.4 351.1,57.0 351.2,54.4 351.3,58.4 351.5,55.0 351.6,58.2 351.7,60.2 351.8,58.3 352.0,57.6 352.1,59.3 352.2,52.5 352.4,51.2 352.5,53.6 352.6,50.3 352.8,53.1 352.9,60.5 353.0,60.3 353.1,55.9 353.3,56.8 353.4,51.1 353.5,46.5 353.7,43.4 353.8,50.6 353.9,55.1 354.0,52.4 354.2,51.5 354.3,54.8 354.4,55.0 354.6,55.5 354.7,57.4 354.8,46.6 355.0,51.3 355.1,50.6 355.2,50.8 355.3,49.0 355.5,42.5 355.6,45.7 355.7,51.1 355.9,55.4 356.0,48.1 356.1,53.3 356.2,48.5 356.4,46.9 356.5,51.5 356.6,47.8 356.8,44.3 356.9,43.3 357.0,53.0 357.1,49.4 357.3,46.4 357.4,46.4 357.5,49.7 357.7,49.6 357.8,48.4 357.9,45.1 358.1,47.6 358.2,39.6 358.3,43.6 358.4,44.8 358.6,50.4 358.7,48.7 358.8,52.0 359.0,53.5 359.1,47.2 359.2,48.5 359.3,39.1 359.5,53.5 359.6,52.1 359.7,51.8 359.9,49.8 360.0,56.1 360.1,44.8 360.2,53.8 360.4,54.0 360.5,48.9 360.6,39.0 360.8,48.4 360.9,41.8 361.0,45.8 361.2,34.8 361.3,44.3 361.4,43.5 361.5,39.8 361.7,39.3 361.8,47.5 361.9,45.2 362.1,46.2 362.2,56.7 362.3,50.4 362.4,49.5 362.6,46.9 362.7,44.9 362.8,50.1 363.0,48.8 363.1,39.6 363.2,47.0 363.4,39.7 363.5,50.7 363.6,47.0 363.7,47.1 363.9,48.0 364.0,48.3 364.1,48.5 364.3,49.1 364.4,47.2 364.5,44.9 364.6,57.3 364.8,50.8 364.9,49.5 365.0,53.8 365.2,54.0 365.3,46.7 365.4,49.1 365.5,48.5 365.7,49.8 365.8,50.7 365.9,51.2 366.1,60.1 366.2,56.2 366.3,53.1 366.5,57.6 366.6,53.5 366.7,59.2 366.8,59.5 367.0,61.7 367.1,62.0 367.2,58.1 367.4,61.9 367.5,54.0 367.6,56.2 367.7,56.6 367.9,60.0 368.0,61.7 368.1,59.5 368.3,59.1 368.4,56.1 368.5,61.0 368.6,59.1 368.8,61.8 368.9,63.3 369.0,56.6 369.2,57.3 369.3,57.1 369.4,64.3 369.6,63.8 369.7,67.8 369.8,56.4 369.9,58.9 370.1,60.5 370.2,58.7 370.3,60.0 370.5,60.4 370.6,62.5 370.7,65.3 370.8,60.9 371.0,65.3 371.1,55.4 371.2,52.7 371.4,51.2 371.5,54.7 371.6,61.3 371.8,56.8 371.9,58.0 372.0,61.1 372.1,60.6 372.3,58.2 372.4,56.7 372.5,58.4 372.7,55.9 372.8,57.2 372.9,57.9 373.0,54.1 373.2,51.6 373.3,60.8 373.4,52.3 373.6,52.1 373.7,55.3 373.8,57.3 373.9,56.5 374.1,60.9 374.2,57.5 374.3,54.8 374.5,50.9 374.6,53.4 374.7,53.9 374.9,54.4 375.0,50.2 375.1,56.8 375.2,55.4 375.4,56.2 375.5,53.9 375.6,49.6 375.8,54.1 375.9,55.6 376.0,58.7 376.1,50.5 376.3,59.7 376.4,50.3 376.5,58.4 376.7,62.0 376.8,57.6 376.9,62.8 377.0,61.5 377.2,57.5 377.3,60.8 377.4,50.6 377.6,54.1 377.7,57.3 377.8,65.7 378.0,57.0 378.1,55.7 378.2,54.8 378.3,52.0 378.5,59.8 378.6,58.7 378.7,58.7 378.9,59.3 379.0,60.5 379.1,50.8 379.2,58.0 379.4,57.7 379.5,62.0 379.6,58.7 379.8,58.8 379.9,55.1 380.0,60.5 380.2,59.8 380.3,55.3 380.4,55.0 380.5,55.3 380.7,55.9 380.8,57.8 380.9,56.2 381.1,60.0 381.2,59.6 381.3,60.1 381.4,57.5 381.6,54.5 381.7,60.3 381.8,62.2 382.0,58.4 382.1,57.1 382.2,61.1 382.3,61.6 382.5,61.0 382.6,62.4 382.7,59.5 382.9,63.3 383.0,60.0 383.1,59.7 383.3,57.3 383.4,59.5 383.5,55.0 383.6,59.5 383.8,61.9 383.9,61.2 384.0,62.2 384.2,62.0 384.3,58.8 384.4,56.6 384.5,63.0 384.7,59.2 384.8,58.6 384.9,59.9 385.1,54.5 385.2,55.5 385.3,59.5 385.4,59.6 385.6,57.6 385.7,58.5 385.8,58.4 386.0,63.6 386.1,62.7 386.2,62.8 386.4,65.1 386.5,61.4 386.6,62.5 386.7,62.1 386.9,64.0 387.0,64.1" fill="none" stroke="#000" stroke-width="0.6"/>
<path d="M56.3,49.7 56.4,52.4 56.6,48.4 56.7,49.7 56.8,54.7 56.9,53.9 57.1,47.2 57.2,53.7 57.3,47.5 57.5,45.4 57.6,51.7 57.7,52.9 57.9,54.6 58.0,55.7 58.1,56.7 58.2,59.3 58.4,55.5 58.5,55.1 58.6,54.1 58.8,52.4 58.9,52.5 59.0,55.8 59.1,56.5 59.3,60.6 59.4,58.1 59.5,55.4 59.7,52.9 59.8,58.6 59.9,62.4 60.0,60.9 60.2,61.3 60.3,58.3 60.4,56.5 60.6,57.2 60.7,55.3 60.8,59.1 61.0,55.3 61.1,52.7 61.2,50.1 61.3,61.4 61.5,61.9 61.6,62.0 61.7,61.6 61.9,63.9 62.0,59.5 62.1,61.8 62.2,63.0 62.4,60.8 62.5,65.9 62.6,59.5 62.8,61.4 62.9,63.6 63.0,62.7 63.1,62.7 63.3,57.4 63.4,58.5 63.5,58.7 63.7,59.0 63.8,62.4 63.9,58.2 64.1,60.5 64.2,62.9 64.3,64.6 64.4,64.4 64.6,63.8 64.7,63.7 64.8,63.3 65.0,64.0 65.1,64.9 65.2,65.7 65.3,67.8 65.5,68.5 65.6,64.8 65.7,64.6 65.9,64.1 66.0,61.4 66.1,64.7 66.3,69.1 66.4,69.2 66.5,65.8 66.6,64.3 66.8,65.9 66.9,65.8 67.0,63.4 67.2,69.2 67.3,66.3 67.4,65.7 67.5,63.7 67.7,65.1 67.8,65.1 67.9,62.8 68.1,58.5 68.2,68.0 68.3,65.1 68.4,64.6 68.6,65.6 68.7,67.9 68.8,62.5 69.0,63.3 69.1,62.3 69.2,63.5 69.4,59.3 69.5,62.0 69.6,60.3 69.7,59.8 69.9,62.7 70.0,62.8 70.1,63.2 70.3,62.6 70.4,60.6 70.5,59.8 70.6,58.8 70.8,66.6 70.9,63.4 71.0,64.0 71.2,60.6 71.3,60.8 71.4,62.2 71.5,59.0 71.7,58.5 71.8,61.2 71.9,58.7 72.1,61.3 72.2,58.2 72.3,49.7 72.5,56.9 72.6,62.7 72.7,59.9 72.8,58.1 73.0,54.5 73.1,51.9 73.2,53.8 73.4,56.1 73.5,59.0 73.6,53.1 73.7,53.6 73.9,52.8 74.0,52.8 74.1,51.4 74.3,55.4 74.4,53.7 74.5,49.0 74.7,46.3 74.8,49.3 74.9,55.4 75.0,57.3 75.2,59.7 75.3,58.3 75.4,58.5 75.6,59.7 75.7,62.1 75.8,50.8 75.9,49.5 76.1,54.2 76.2,55.3 76.3,56.7 76.5,55.0 76.6,48.0 76.7,53.0 76.8,52.6 77.0,50.8 77.1,51.3 77.2,53.0 77.4,51.6 77.5,51.7 77.6,48.4 77.8,55.5 77.9,48.7 78.0,53.9 78.1,49.1 78.3,54.9 78.4,53.7 78.5,56.1 78.7,50.0 78.8,50.7 78.9,49.0 79.0,46.9 79.2,52.6 79.3,53.8 79.4,54.3 79.6,51.7 79.7,51.2 79.8,47.8 79.9,54.7 80.1,45.8 80.2,43.1 80.3,48.2 80.5,47.9 80.6,54.1 80.7,55.0 80.9,52.9 81.0,46.8 81.1,51.5 81.2,49.2 81.4,46.2 81.5,44.7 81.6,48.1 81.8,49.3 81.9,49.4 82.0,50.0 82.1,47.2 82.3,45.0 82.4,44.7 82.5,47.4 82.7,57.9 82.8,48.8 82.9,51.4 83.1,40.1 83.2,43.2 83.3,46.7 83.4,50.3 83.6,48.5 83.7,48.6 83.8,47.9 84.0,43.2 84.1,43.2 84.2,44.0 84.3,37.9 84.5,46.1 84.6,46.7 84.7,54.4 84.9,52.0 85.0,48.5 85.1,40.9 85.2,38.0 85.4,44.3 85.5,39.7 85.6,41.2 85.8,46.0 85.9,48.7 86.0,54.5 86.2,55.3 86.3,47.1 86.4,33.5 86.5,47.5 86.7,44.3 86.8,53.3 86.9,53.4 87.1,50.4 87.2,56.0 87.3,56.4 87.4,51.7 87.6,48.3 87.7,44.0 87.8,50.1 88.0,51.4 88.1,44.4 88.2,54.8 88.3,49.8 88.5,45.9 88.6,45.5 88.7,49.0 88.9,52.5 89.0,50.6 89.1,55.2 89.3,53.6 89.4,50.0 89.5,52.3 89.6,53.5 89.8,57.2 89.9,56.0 90.0,53.4 90.2,57.0 90.3,51.1 90.4,44.2 90.5,52.8 90.7,52.8 90.8,55.2 90.9,54.6 91.1,54.2 91.2,59.7 91.3,61.4 91.5,56.5 91.6,58.5 91.7,54.1 91.8,53.6 92.0,56.4 92.1,56.6 92.2,58.5 92.4,56.4 92.5,57.7 92.6,59.8 92.7,59.7 92.9,54.5 93.0,52.3 93.1,54.6 93.3,52.5 93.4,57.7 93.5,64.2 93.6,62.5 93.8,59.0 93.9,61.0 94.0,59.8 94.2,63.5 94.3,60.0 94.4,61.0 94.6,63.0 94.7,59.8 94.8,63.2 94.9,61.7 95.1,63.3 95.2,63.3 95.3,62.1 95.5,65.0 95.6,61.1 95.7,63.2 95.8,62.4 96.0,63.4 96.1,65.1 96.2,65.9 96.4,64.7 96.5,65.9 96.6,59.3 96.7,64.2 96.9,64.4 97.0,63.9 97.1,55.7 97.3,62.6 97.4,64.8 97.5,59.4 97.7,62.4 97.8,63.2 97.9,65.9 98.0,62.0 98.2,58.9 98.3,61.4 98.4,61.9 98.6,66.7 98.7,64.2 98.8,63.3 98.9,62.2 99.1,61.6 99.2,59.3 99.3,56.1 99.5,53.9 99.6,59.2 99.7,57.4 99.9,58.9 100.0,52.3 100.1,56.4 100.2,56.0 100.4,58.6 100.5,58.4 100.6,58.9 100.8,57.4 100.9,55.9 101.0,55.0 101.1,56.4 101.3,57.7 101.4,55.3 101.5,54.2 101.7,62.6 101.8,59.0 101.9,60.1 102.0,59.2 102.2,59.3 102.3,57.4 102.4,56.8 102.6,60.8 102.7,53.1 102.8,56.7 103.0,54.2 103.1,54.6 103.2,53.9 103.3,52.6 103.5,50.3 103.6,50.7 103.7,59.7 103.9,57.5 104.0,58.7 104.1,55.5 104.2,55.7 104.4,57.2 104.5,55.0 104.6,58.3 104.8,57.0 104.9,56.8 105.0,56.1 105.1,55.5 105.3,60.6 105.4,56.3 105.5,63.4 105.7,57.8 105.8,45.5 105.9,58.8 106.1,49.4 106.2,48.0 106.3,54.3 106.4,55.4 106.6,58.9 106.7,59.3 106.8,62.1 107.0,58.8 107.1,53.1 107.2,51.8 107.3,58.6 107.5,57.2 107.6,59.3 107.7,52.4 107.9,62.7 108.0,59.2 108.1,59.4 108.3,57.8 108.4,55.2 108.5,54.5 108.6,54.6 108.8,56.9 108.9,57.4 109.0,56.6 109.2,57.8 109.3,59.4 109.4,62.0 109.5,59.3 109.7,59.4 109.8,58.9 109.9,60.6 110.1,62.5 110.2,62.2 110.3,65.1 110.4,59.3 110.6,62.8 110.7,64.1 110.8,65.8 111.0,63.6 111.1,63.7 111.2,68.1 111.4,63.2 111.5,62.5 111.6,65.2 111.7,66.6 111.9,60.7 112.0,64.4 112.1,66.4 112.3,68.2 112.4,66.1 112.5,65.8 112.6,62.8 112.8,63.8 112.9,64.3 113.0,63.0 113.2,66.6 113.3,65.4 113.4,61.5 113.5,66.4 113.7,66.9 113.8,62.3 113.9,62.9 114.1,66.3 114.2,58.7 114.3,65.0 114.5,65.8 114.6,64.6 114.7,63.4 114.8,64.2 115.0,65.4 115.1,64.3 115.2,65.9 115.4,64.5 115.5,67.0 115.6,64.7 115.7,60.5 115.9,66.0 116.0,66.8 116.1,68.3 116.3,67.8 116.4,61.6 116.5,60.7 116.7,64.2 116.8,63.8 116.9,67.2 117.0,61.1 117.2,61.0 117.3,64.7 117.4,65.7 117.6,63.1 117.7,65.2 117.8,62.3 117.9,54.7 118.1,60.2 118.2,61.9 118.3,60.9 118.5,62.1 118.6,63.5 118.7,63.8 118.8,61.1 119.0,60.6 119.1,59.7 119.2,55.1 119.4,55.1 119.5,57.3 119.6,63.5 119.8,52.5 119.9,58.4 120.0,65.0 120.1,60.9 120.3,56.8 120.4,58.5 120.5,57.4 120.7,57.6 120.8,53.9 120.9,46.6 121.0,50.9 121.2,49.3 121.3,51.3 121.4,56.0 121.6,60.1 121.7,57.3 121.8,58.5 121.9,50.9 122.1,47.6 122.2,42.1 122.3,42.8 122.5,43.9 122.6,43.8 122.7,51.5 122.9,48.4 123.0,45.0 123.1,47.3 123.2,48.5 123.4,45.0 123.5,41.5 123.6,37.0 123.8,49.0 123.9,52.6 124.0,51.1 124.1,47.8 124.3,48.2 124.4,48.2 124.5,46.5 124.7,49.8 124.8,50.4 124.9,54.3 125.1,53.2 125.2,49.2 125.3,43.9 125.4,41.2 125.6,46.2 125.7,48.6 125.8,45.8 126.0,52.4 126.1,50.1 126.2,46.9 126.3,44.9 126.5,47.2 126.6,48.9 126.7,48.9 126.9,51.1 127.0,52.3 127.1,46.6 127.2,43.7 127.4,47.6 127.5,50.5 127.6,50.4 127.8,50.1 127.9,44.7 128.0,49.9 128.2,52.6 128.3,53.1 128.4,51.8 128.5,45.9 128.7,48.9 128.8,55.0 128.9,49.9 129.1,50.6 129.2,46.4 129.3,59.1 129.4,54.1 129.6,44.5 129.7,51.7 129.8,50.1 130.0,48.1 130.1,47.2 130.2,44.5 130.3,51.2 130.5,47.4 130.6,53.2 130.7,54.4 130.9,58.2 131.0,55.7 131.1,55.0 131.3,56.4 131.4,55.2 131.5,51.2 131.6,49.5 131.8,50.2 131.9,51.4 132.0,54.4 132.2,54.0 132.3,56.0 132.4,54.9 132.5,61.0 132.7,58.6 132.8,58.6 132.9,52.9 133.1,58.9 133.2,59.9 133.3,56.9 133.5,56.7 133.6,55.9 133.7,53.5 133.8,49.8 134.0,58.4 134.1,51.4 134.2,57.0 134.4,55.2 134.5,56.1 134.6,52.9 134.7,56.1 134.9,57.4 135.0,57.7 135.1,58.3 135.3,56.4 135.4,58.5 135.5,56.3 135.6,58.4 135.8,62.4 135.9,58.9 136.0,57.6 136.2,58.9 136.3,54.8 136.4,52.6 136.6,59.9 136.7,60.8 136.8,59.6 136.9,56.3 137.1,57.8 137.2,55.2 137.3,58.3 137.5,57.1 137.6,56.3 137.7,60.2 137.8,56.1 138.0,53.8 138.1,58.9 138.2,53.7 138.4,58.6 138.5,57.7 138.6,62.6 138.7,61.6 138.9,61.8 139.0,61.5 139.1,62.2 139.3,60.3 139.4,58.7 139.5,53.8 139.7,62.5 139.8,59.2 139.9,60.3 140.0,64.9 140.2,62.6 140.3,59.8 140.4,57.2 140.6,61.2 140.7,63.2 140.8,63.5 140.9,59.9 141.1,58.6 141.2,60.6 141.3,61.0 141.5,56.8 141.6,57.5 141.7,57.4 141.9,61.6 142.0,62.4 142.1,60.0 142.2,59.1 142.4,58.4 142.5,58.3 142.6,61.4 142.8,64.3 142.9,55.4 143.0,59.2 143.1,62.4 143.3,64.8 143.4,64.6 143.5,63.8 143.7,58.0 143.8,59.2 143.9,54.6 144.0,61.4 144.2,57.1 144.3,61.6 144.4,59.9 144.6,60.5 144.7,62.6 144.8,60.9 145.0,58.8 145.1,60.9 145.2,62.8 145.3,59.4 145.5,57.9 145.6,59.8 145.7,60.7 145.9,56.1 146.0,59.0 146.1,65.7 146.2,63.2 146.4,55.8 146.5,56.3 146.6,57.3 146.8,59.3 146.9,57.0 147.0,48.9 147.1,58.3 147.3,58.3 147.4,60.5 147.5,56.2 147.7,54.3 147.8,57.2 147.9,56.8 148.1,57.7 148.2,56.2 148.3,57.5 148.4,57.5 148.6,57.4 148.7,58.7 148.8,58.2 149.0,54.9 149.1,56.8 149.2,55.3 149.3,57.2 149.5,52.8 149.6,56.4 149.7,55.0 149.9,55.9 150.0,53.2 150.1,55.1 150.3,58.1 150.4,60.0 150.5,58.8 150.6,53.7 150.8,47.1 150.9,52.8 151.0,56.3 151.2,54.7 151.3,58.5 151.4,60.0 151.5,53.8 151.7,58.6 151.8,57.1 151.9,57.1 152.1,56.6 152.2,54.9 152.3,61.8 152.4,55.3 152.6,56.9 152.7,55.3 152.8,59.4 153.0,60.6 153.1,57.5 153.2,51.9 153.4,56.7 153.5,57.7 153.6,61.2 153.7,57.7 153.9,56.2 154.0,61.4 154.1,58.9 154.3,61.8 154.4,61.3 154.5,58.9 154.6,57.0 154.8,57.4 154.9,58.0 155.0,59.8 155.2,59.7 155.3,61.4 155.4,60.9 155.5,62.7 155.7,57.6 155.8,62.7 155.9,59.2 156.1,60.9 156.2,64.7 156.3,60.4 156.5,58.3 156.6,62.9 156.7,63.8 156.8,61.3 157.0,63.6 157.1,69.5 157.2,63.9 157.4,67.0 157.5,67.5 157.6,66.0 157.7,65.4 157.9,66.2 158.0,65.5 158.1,69.1 158.3,67.2 158.4,66.3 158.5,66.3 158.7,67.9 158.8,63.1 158.9,63.7 159.0,62.1 159.2,64.4 159.3,64.9 159.4,65.2 159.6,64.0 159.7,66.7 159.8,69.2 159.9,64.1 160.1,66.5 160.2,67.6 160.3,68.6 160.5,64.0 160.6,62.3 160.7,67.2 160.8,63.7 161.0,69.5 161.1,68.1 161.2,63.6 161.4,66.3 161.5,62.9 161.6,62.1 161.8,60.4 161.9,64.7 162.0,60.2 162.1,61.8 162.3,59.0 162.4,59.4 162.5,63.7 162.7,59.5 162.8,60.9 162.9,66.5 163.0,65.8 163.2,62.5 163.3,62.9 163.4,61.1 163.6,62.2 163.7,65.3 163.8,63.7 163.9,64.3 164.1,61.8 164.2,62.1 164.3,62.2 164.5,64.9 164.6,60.2 164.7,60.7 164.9,61.7 165.0,62.9 165.1,59.7 165.2,59.7 165.4,68.5 165.5,66.0 165.6,59.9 165.8,57.4 165.9,54.7 166.0,62.1 166.1,62.8 166.3,58.8 166.4,59.9 166.5,57.0 166.7,61.3 166.8,53.6 166.9,57.4 167.1,59.7 167.2,53.6 167.3,54.5 167.4,57.4 167.6,56.9 167.7,62.3 167.8,63.8 168.0,54.5 168.1,50.1 168.2,52.4 168.3,55.2 168.5,55.6 168.6,56.3 168.7,61.0 168.9,53.1 169.0,55.2 169.1,49.8 169.2,54.2 169.4,54.6 169.5,52.7 169.6,50.6 169.8,54.5 169.9,55.2 170.0,51.4 170.2,52.2 170.3,51.8 170.4,51.3 170.5,59.2 170.7,55.8 170.8,57.7 170.9,47.6 171.1,56.2 171.2,57.1 171.3,49.2 171.4,50.5 171.6,48.4 171.7,47.4 171.8,47.3 172.0,43.4 172.1,46.2 172.2,51.7 172.3,51.6 172.5,46.8 172.6,44.7 172.7,54.9 172.9,58.6 173.0,55.2 173.1,48.1 173.3,49.2 173.4,41.6 173.5,55.3 173.6,53.9 173.8,52.8 173.9,50.1 174.0,35.8 174.2,36.5 174.3,50.6 174.4,51.6 174.5,54.0 174.7,49.5 174.8,48.9 174.9,49.0 175.1,47.3 175.2,45.8 175.3,45.9 175.5,44.3 175.6,44.5 175.7,48.7 175.8,51.1 176.0,50.5 176.1,49.3 176.2,54.1 176.4,34.7 176.5,41.8 176.6,48.7 176.7,51.8 176.9,48.2 177.0,49.7 177.1,50.4 177.3,49.1 177.4,50.3 177.5,53.0 177.6,49.6 177.8,50.7 177.9,49.9 178.0,46.7 178.2,50.0 178.3,60.1 178.4,55.9 178.6,55.4 178.7,58.1 178.8,43.9 178.9,50.2 179.1,46.4 179.2,49.7 179.3,51.4 179.5,51.3 179.6,49.7 179.7,51.9 179.8,55.7 180.0,57.5 180.1,50.0 180.2,50.0 180.4,55.4 180.5,53.2 180.6,50.5 180.7,52.4 180.9,52.4 181.0,55.7 181.1,60.6 181.3,56.1 181.4,55.9 181.5,54.4 181.7,57.0 181.8,54.9 181.9,52.7 182.0,57.3 182.2,55.6 182.3,55.7 182.4,57.0 182.6,49.4 182.7,63.3 182.8,52.9 182.9,54.1 183.1,53.6 183.2,54.0 183.3,54.3 183.5,58.2 183.6,56.7 183.7,59.8 183.9,60.8 184.0,58.2 184.1,60.9 184.2,59.9 184.4,59.6 184.5,58.0 184.6,60.1 184.8,60.9 184.9,56.1 185.0,58.9 185.1,62.8 185.3,57.9 185.4,56.6 185.5,58.7 185.7,62.1 185.8,62.7 185.9,60.7 186.0,57.1 186.2,57.5 186.3,57.5 186.4,63.0 186.6,62.6 186.7,58.5 186.8,55.1 187.0,59.5 187.1,63.5 187.2,59.8 187.3,57.2 187.5,61.7 187.6,61.6 187.7,57.3 187.9,58.9 188.0,56.3 188.1,59.5 188.2,51.4 188.4,56.5 188.5,56.8 188.6,54.5 188.8,59.9 188.9,57.5 189.0,60.7 189.1,59.2 189.3,61.8 189.4,58.2 189.5,63.1 189.7,59.1 189.8,59.9 189.9,56.5 190.1,56.8 190.2,56.3 190.3,62.8 190.4,61.4 190.6,59.1 190.7,57.8 190.8,57.6 191.0,49.8 191.1,53.8 191.2,56.4 191.3,56.0 191.5,54.5 191.6,62.8 191.7,62.6 191.9,62.0 192.0,55.5 192.1,55.6 192.3,54.7 192.4,59.1 192.5,54.6 192.6,56.8 192.8,63.3 192.9,60.1 193.0,62.8 193.2,58.1 193.3,61.0 193.4,58.2 193.5,55.9 193.7,58.0 193.8,56.5 193.9,55.9 194.1,57.8 194.2,58.4 194.3,53.1 194.4,62.8 194.6,57.7 194.7,57.2 194.8,57.2 195.0,58.5 195.1,62.9 195.2,61.1 195.4,63.0 195.5,64.8 195.6,63.5 195.7,64.2 195.9,55.3 196.0,60.4 196.1,60.2 196.3,58.4 196.4,64.3 196.5,65.3 196.6,60.3 196.8,61.6 196.9,56.2 197.0,56.6 197.2,59.7 197.3,61.6 197.4,59.6 197.5,65.6 197.7,58.4 197.8,57.1 197.9,60.3 198.1,63.7 198.2,60.9 198.3,66.1 198.5,63.6 198.6,64.2 198.7,64.9 198.8,63.0 199.0,60.5 199.1,61.4 199.2,65.3 199.4,66.7 199.5,64.9 199.6,69.5 199.7,63.1 199.9,64.2 200.0,63.0 200.1,67.5 200.3,66.9 200.4,61.1 200.5,62.2 200.7,60.9 200.8,65.3 200.9,63.4 201.0,66.1 201.2,67.3 201.3,63.2 201.4,62.6 201.6,64.6 201.7,68.7 201.8,63.9 201.9,63.5 202.1,62.2 202.2,60.9 202.3,64.1 202.5,64.8 202.6,63.7 202.7,63.0 202.8,61.7 203.0,63.2 203.1,63.9 203.2,65.1 203.4,60.3 203.5,65.6 203.6,65.3 203.8,68.6 203.9,62.7 204.0,61.7 204.1,62.7 204.3,61.9 204.4,62.3 204.5,62.3 204.7,63.1 204.8,60.1 204.9,63.4 205.0,65.1 205.2,66.3 205.3,65.3 205.4,66.0 205.6,62.2 205.7,60.2 205.8,57.3 205.9,64.3 206.1,62.3 206.2,62.8 206.3,63.1 206.5,64.1 206.6,62.5 206.7,66.5 206.9,66.7 207.0,65.8 207.1,63.0 207.2,58.9 207.4,64.7 207.5,65.8 207.6,61.8 207.8,62.5 207.9,61.2 208.0,65.7 208.1,67.4 208.3,65.8 208.4,63.0 208.5,61.8 208.7,61.0 208.8,61.5 208.9,65.0 209.1,66.7 209.2,67.7 209.3,65.2 209.4,66.7 209.6,63.2 209.7,64.4 209.8,61.2 210.0,61.0 210.1,61.7 210.2,60.2 210.3,57.0 210.5,60.6 210.6,60.1 210.7,62.6 210.9,60.7 211.0,61.8 211.1,62.0 211.2,61.7 211.4,51.9 211.5,60.2 211.6,62.7 211.8,61.9 211.9,61.7 212.0,61.0 212.2,58.2 212.3,57.3 212.4,52.2 212.5,50.0 212.7,59.3 212.8,56.8 212.9,55.4 213.1,57.1 213.2,57.4 213.3,54.7 213.4,54.3 213.6,51.3 213.7,51.6 213.8,55.6 214.0,55.2 214.1,51.6 214.2,47.9 214.3,46.2 214.5,53.8 214.6,51.1 214.7,49.9 214.9,55.1 215.0,54.3 215.1,55.2 215.3,55.8 215.4,53.0 215.5,58.1 215.6,52.8 215.8,48.1 215.9,50.5 216.0,46.9 216.2,50.1 216.3,53.3 216.4,43.4 216.5,42.5 216.7,48.4 216.8,51.6 216.9,51.5 217.1,56.1 217.2,47.0 217.3,42.8 217.5,41.5 217.6,43.3 217.7,44.4 217.8,41.1 218.0,46.2 218.1,47.9 218.2,47.1 218.4,45.8 218.5,47.4 218.6,43.7 218.7,44.0 218.9,44.4 219.0,47.3 219.1,45.1 219.3,45.6 219.4,50.4 219.5,50.7 219.6,45.2 219.8,44.9 219.9,40.3 220.0,43.6 220.2,49.1 220.3,49.0 220.4,45.4 220.6,38.7 220.7,42.8 220.8,42.6 220.9,49.5 221.1,56.1 221.2,53.8 221.3,53.6 221.5,47.4 221.6,46.3 221.7,43.2 221.8,50.5 222.0,40.2 222.1,36.9 222.2,43.5 222.4,42.0 222.5,43.9 222.6,37.3 222.7,36.7 222.9,46.7 223.0,51.0 223.1,48.5 223.3,46.9 223.4,43.9 223.5,44.9 223.7,48.2 223.8,38.6 223.9,44.8 224.0,47.9 224.2,51.8 224.3,47.0 224.4,48.6 224.6,45.1 224.7,32.1 224.8,47.8 224.9,51.7 225.1,51.9 225.2,50.2 225.3,45.8 225.5,50.6 225.6,43.6 225.7,52.1 225.8,49.3 226.0,51.9 226.1,52.9 226.2,51.8 226.4,47.8 226.5,39.3 226.6,49.6 226.8,51.3 226.9,53.3 227.0,52.8 227.1,51.7 227.3,56.0 227.4,45.2 227.5,53.2 227.7,52.2 227.8,46.1 227.9,48.7 228.0,49.5 228.2,57.7 228.3,49.8 228.4,53.1 228.6,48.8 228.7,50.3 228.8,56.5 229.0,54.2 229.1,57.3 229.2,54.7 229.3,57.1 229.5,56.7 229.6,56.7 229.7,53.0 229.9,56.7 230.0,59.1 230.1,58.9 230.2,51.6 230.4,53.5 230.5,55.4 230.6,56.5 230.8,60.1 230.9,58.6 231.0,59.0 231.1,57.7 231.3,53.3 231.4,60.3 231.5,58.6 231.7,56.7 231.8,53.7 231.9,53.7 232.1,56.3 232.2,51.2 232.3,58.2 232.4,53.7 232.6,58.5 232.7,61.9 232.8,61.8 233.0,59.4 233.1,57.8 233.2,56.8 233.3,61.1 233.5,61.1 233.6,58.7 233.7,62.0 233.9,60.2 234.0,60.2 234.1,60.9 234.2,60.3 234.4,59.7 234.5,61.1 234.6,60.7 234.8,59.5 234.9,57.0 235.0,58.5 235.2,58.2 235.3,58.5 235.4,59.0 235.5,56.3 235.7,60.3 235.8,54.2 235.9,53.1 236.1,52.2 236.2,57.7 236.3,56.7 236.4,60.3 236.6,68.5 236.7,65.4 236.8,64.0 237.0,64.6 237.1,62.0 237.2,61.6 237.4,62.0 237.5,60.5 237.6,68.1 237.7,62.0 237.9,65.7 238.0,64.5 238.1,62.6 238.3,61.1 238.4,60.2 238.5,59.6 238.6,60.7 238.8,60.9 238.9,60.9 239.0,60.6 239.2,62.8 239.3,61.7 239.4,61.0 239.5,61.1 239.7,61.8 239.8,62.3 239.9,66.7 240.1,63.1 240.2,65.5 240.3,62.8 240.5,60.3 240.6,63.5 240.7,62.4 240.8,64.0 241.0,59.2 241.1,60.5 241.2,63.7 241.4,68.8 241.5,65.8 241.6,65.6 241.7,65.3 241.9,61.6 242.0,67.5 242.1,65.8 242.3,64.6 242.4,64.0 242.5,63.5 242.6,55.5 242.8,64.3 242.9,65.1 243.0,63.8 243.2,62.9 243.3,64.5 243.4,64.3 243.6,61.7 243.7,58.4 243.8,62.6 243.9,68.6 244.1,65.1 244.2,65.7 244.3,66.7 244.5,63.2 244.6,64.2 244.7,68.2 244.8,66.4 245.0,62.2 245.1,63.0 245.2,63.9 245.4,62.5 245.5,66.5 245.6,65.3 245.8,64.7 245.9,69.5 246.0,68.2 246.1,69.5 246.3,67.3 246.4,67.3 246.5,66.8 246.7,65.7 246.8,64.0 246.9,62.8 247.0,68.6 247.2,66.9 247.3,60.0 247.4,59.8 247.6,63.8 247.7,63.0 247.8,61.9 247.9,64.2 248.1,63.5 248.2,63.2 248.3,64.8 248.5,69.5 248.6,65.4 248.7,65.7 248.9,68.8 249.0,66.1 249.1,67.1 249.2,65.2 249.4,63.0 249.5,66.3 249.6,67.1 249.8,66.4 249.9,67.2 250.0,66.0 250.1,68.4 250.3,68.8 250.4,66.7 250.5,67.3 250.7,66.2 250.8,64.2 250.9,65.9 251.0,65.1 251.2,64.3 251.3,65.5 251.4,65.7 251.6,66.3 251.7,67.5 251.8,67.0 252.0,65.5 252.1,67.2 252.2,63.2 252.3,61.3 252.5,64.9 252.6,62.1 252.7,62.1 252.9,64.9 253.0,62.2 253.1,65.8 253.2,62.9 253.4,66.1 253.5,68.7 253.6,65.4 253.8,64.3 253.9,65.1 254.0,61.9 254.2,62.9 254.3,66.7 254.4,65.4 254.5,65.7 254.7,62.4 254.8,60.7 254.9,63.5 255.1,61.6 255.2,59.4 255.3,60.6 255.4,59.6 255.6,63.0 255.7,64.0 255.8,64.0 256.0,63.8 256.1,66.3 256.2,65.0 256.3,66.6 256.5,65.0 256.6,67.4 256.7,63.9 256.9,53.8 257.0,64.1 257.1,62.4 257.3,64.0 257.4,59.8 257.5,59.9 257.6,59.3 257.8,65.1 257.9,62.5 258.0,63.2 258.2,59.8 258.3,62.4 258.4,58.3 258.5,63.0 258.7,60.4 258.8,59.8 258.9,56.9 259.1,60.4 259.2,60.2 259.3,57.3 259.4,55.8 259.6,56.0 259.7,58.2 259.8,57.5 260.0,63.0 260.1,61.2 260.2,61.4 260.4,64.5 260.5,55.3 260.6,56.3 260.7,57.8 260.9,62.3 261.0,58.6 261.1,58.1 261.3,59.5 261.4,55.9 261.5,59.3 261.6,53.8 261.8,54.1 261.9,53.5 262.0,54.5 262.2,58.4 262.3,59.5 262.4,61.6 262.6,59.6 262.7,60.2 262.8,58.7 262.9,55.5 263.1,52.1 263.2,51.8 263.3,47.3 263.5,52.4 263.6,57.6 263.7,59.0 263.8,51.0 264.0,50.4 264.1,42.3 264.2,47.8 264.4,52.6 264.5,47.2 264.6,50.9 264.7,52.6 264.9,56.9 265.0,59.0 265.1,48.2 265.3,56.7 265.4,50.3 265.5,53.5 265.7,53.9 265.8,57.1 265.9,50.8 266.0,49.5 266.2,50.8 266.3,46.2 266.4,47.3 266.6,47.2 266.7,44.9 266.8,51.9 266.9,53.5 267.1,49.7 267.2,47.5 267.3,49.1 267.5,52.6 267.6,53.5 267.7,48.6 267.8,49.6 268.0,47.8 268.1,50.6 268.2,51.7 268.4,52.1 268.5,50.8 268.6,49.4 268.8,50.5 268.9,44.9 269.0,47.7 269.1,50.6 269.3,45.0 269.4,47.3 269.5,46.0 269.7,46.6 269.8,47.8 269.9,47.2 270.0,49.4 270.2,49.0 270.3,50.3 270.4,46.2 270.6,48.4 270.7,48.4 270.8,47.3 271.0,49.1 271.1,47.9 271.2,46.4 271.3,48.7 271.5,51.2 271.6,56.3 271.7,51.2 271.9,51.0 272.0,41.1 272.1,47.6 272.2,53.4 272.4,55.5 272.5,54.6 272.6,56.7 272.8,50.8 272.9,54.2 273.0,43.7 273.1,51.1 273.3,44.8 273.4,51.4 273.5,45.2 273.7,53.1 273.8,50.7 273.9,57.1 274.1,52.2 274.2,52.0 274.3,54.2 274.4,45.2 274.6,50.1 274.7,46.9 274.8,54.3 275.0,59.2 275.1,52.9 275.2,49.4 275.3,46.8 275.5,46.7 275.6,43.9 275.7,53.4 275.9,50.8 276.0,51.9 276.1,55.5 276.2,53.0 276.4,52.5 276.5,53.1 276.6,51.3 276.8,57.4 276.9,59.4 277.0,58.1 277.2,58.9 277.3,58.2 277.4,63.2 277.5,56.2 277.7,58.7 277.8,59.5 277.9,57.9 278.1,57.5 278.2,57.5 278.3,52.8 278.4,57.5 278.6,60.5 278.7,60.8 278.8,54.2 279.0,61.0 279.1,62.3 279.2,61.1 279.4,56.1 279.5,60.2 279.6,54.3 279.7,55.8 279.9,51.9 280.0,61.3 280.1,57.3 280.3,54.1 280.4,59.8 280.5,55.3 280.6,55.9 280.8,58.2 280.9,59.9 281.0,61.2 281.2,55.0 281.3,59.4 281.4,58.1 281.5,55.2 281.7,60.5 281.8,57.8 281.9,52.0 282.1,60.3 282.2,57.9 282.3,59.0 282.5,58.4 282.6,54.9 282.7,57.5 282.8,55.9 283.0,56.2 283.1,57.5 283.2,64.3 283.4,57.9 283.5,59.0 283.6,56.9 283.7,58.5 283.9,58.8 284.0,59.7 284.1,57.2 284.3,51.6 284.4,56.6 284.5,55.9 284.6,57.9 284.8,52.9 284.9,53.7 285.0,51.3 285.2,59.6 285.3,56.0 285.4,54.6 285.6,57.5 285.7,53.4 285.8,55.1 285.9,58.1 286.1,57.0 286.2,52.2 286.3,56.9 286.5,58.4 286.6,54.3 286.7,52.6 286.8,59.9 287.0,56.3 287.1,57.8 287.2,55.0 287.4,53.1 287.5,55.3 287.6,58.5 287.8,59.8 287.9,53.0 288.0,56.1 288.1,54.3 288.3,58.8 288.4,59.7 288.5,53.7 288.7,56.8 288.8,54.7 288.9,57.0 289.0,53.1 289.2,59.6 289.3,62.2 289.4,60.0 289.6,60.4 289.7,59.4 289.8,61.1 289.9,56.8 290.1,52.3 290.2,56.7 290.3,57.7 290.5,62.7 290.6,61.0 290.7,62.9 290.9,62.1 291.0,65.4 291.1,63.3 291.2,59.9 291.4,58.7 291.5,60.8 291.6,65.0 291.8,68.7 291.9,63.5 292.0,59.6 292.1,61.0 292.3,59.1 292.4,59.3 292.5,61.4 292.7,66.2 292.8,65.3 292.9,62.5 293.0,60.9 293.2,61.8 293.3,61.3 293.4,59.4 293.6,59.8 293.7,62.5 293.8,60.1 294.0,61.4 294.1,62.7 294.2,64.2 294.3,66.7 294.5,63.2 294.6,62.0 294.7,58.5 294.9,65.5 295.0,63.7 295.1,62.4 295.2,64.3 295.4,64.8 295.5,62.8 295.6,59.2 295.8,64.8 295.9,63.8 296.0,63.1 296.2,55.2 296.3,60.7 296.4,57.0 296.5,60.7 296.7,58.7 296.8,59.4 296.9,65.9 297.1,63.7 297.2,64.7 297.3,62.2 297.4,63.4 297.6,53.7 297.7,51.0 297.8,58.9 298.0,59.7 298.1,60.8 298.2,62.9 298.3,62.6 298.5,58.1 298.6,60.3 298.7,62.7 298.9,60.1 299.0,61.7 299.1,62.3 299.3,58.8 299.4,57.1 299.5,59.3 299.6,59.3 299.8,58.3 299.9,56.3 300.0,58.0 300.2,57.0 300.3,58.5 300.4,59.2 300.5,60.2 300.7,62.7 300.8,58.3 300.9,56.5 301.1,63.3 301.2,60.5 301.3,60.6 301.4,66.0 301.6,65.4 301.7,60.3 301.8,60.3 302.0,60.4 302.1,64.0 302.2,60.5 302.4,61.6 302.5,63.0 302.6,57.6 302.7,57.9 302.9,60.3 303.0,57.0 303.1,58.9 303.3,58.2 303.4,51.1 303.5,53.9 303.6,61.1 303.8,57.2 303.9,59.2 304.0,61.9 304.2,57.7 304.3,57.9 304.4,61.6 304.6,55.7 304.7,56.4 304.8,62.3 304.9,60.7 305.1,60.2 305.2,58.0 305.3,55.1 305.5,54.3 305.6,59.2 305.7,58.3 305.8,53.7 306.0,56.7 306.1,57.2 306.2,53.0 306.4,58.8 306.5,54.5 306.6,58.5 306.7,56.9 306.9,59.7 307.0,62.7 307.1,59.2 307.3,63.1 307.4,52.2 307.5,51.1 307.7,60.1 307.8,60.9 307.9,57.7 308.0,61.6 308.2,56.0 308.3,58.1 308.4,55.3 308.6,49.1 308.7,52.3 308.8,52.8 308.9,52.0 309.1,58.5 309.2,54.2 309.3,55.6 309.5,52.2 309.6,53.9 309.7,45.1 309.8,49.2 310.0,47.9 310.1,56.8 310.2,55.4 310.4,53.5 310.5,61.8 310.6,53.4 310.8,49.0 310.9,45.4 311.0,52.6 311.1,55.1 311.3,55.4 311.4,51.8 311.5,57.3 311.7,51.8 311.8,54.4 311.9,51.4 312.0,48.8 312.2,49.8 312.3,48.7 312.4,53.1 312.6,45.0 312.7,49.8 312.8,49.0 313.0,45.6 313.1,42.7 313.2,47.0 313.3,48.6 313.5,44.6 313.6,41.7 313.7,52.8 313.9,49.3 314.0,42.8 314.1,49.7 314.2,46.9 314.4,49.8 314.5,46.7 314.6,53.0 314.8,47.9 314.9,42.9 315.0,41.2 315.1,46.4 315.3,46.6 315.4,44.7 315.5,45.2 315.7,46.4 315.8,39.5 315.9,45.1 316.1,43.0 316.2,45.2 316.3,46.8 316.4,47.4 316.6,51.4 316.7,46.0 316.8,46.0 317.0,41.0 317.1,45.8 317.2,44.8 317.3,46.2 317.5,49.1 317.6,50.4 317.7,49.8 317.9,47.9 318.0,45.9 318.1,48.4 318.2,53.4 318.4,54.1 318.5,39.2 318.6,47.4 318.8,47.6 318.9,45.0 319.0,46.3 319.2,46.2 319.3,45.7 319.4,46.9 319.5,40.2 319.7,46.7 319.8,50.4 319.9,51.6 320.1,51.1 320.2,51.2 320.3,51.6 320.4,53.5 320.6,37.3 320.7,49.7 320.8,53.7 321.0,39.3 321.1,46.5 321.2,49.8 321.4,47.6 321.5,50.5 321.6,59.6 321.7,43.2 321.9,55.1 322.0,52.3 322.1,51.4 322.3,46.9 322.4,51.1 322.5,51.5 322.6,53.4 322.8,55.2 322.9,56.4 323.0,56.1 323.2,54.7 323.3,50.1 323.4,53.0 323.5,58.4 323.7,48.7 323.8,50.9 323.9,53.3 324.1,56.4 324.2,55.2 324.3,56.9 324.5,52.9 324.6,55.7 324.7,50.9 324.8,53.8 325.0,59.3 325.1,63.1 325.2,53.7 325.4,58.2 325.5,54.5 325.6,55.6 325.7,58.3 325.9,56.7 326.0,55.8 326.1,52.4 326.3,49.9 326.4,55.1 326.5,52.8 326.6,60.8 326.8,57.8 326.9,59.9 327.0,58.5 327.2,60.2 327.3,58.2 327.4,56.4 327.6,54.4 327.7,58.1 327.8,61.1 327.9,57.8 328.1,60.3 328.2,62.9 328.3,59.4 328.5,57.8 328.6,52.5 328.7,60.6 328.8,61.8 329.0,62.0 329.1,56.9 329.2,60.0 329.4,59.1 329.5,58.9 329.6,63.9 329.8,63.2 329.9,51.7 330.0,58.2 330.1,52.2 330.3,58.0 330.4,58.3 330.5,52.6 330.7,50.4 330.8,57.3 330.9,57.9 331.0,57.2 331.2,60.6 331.3,60.4 331.4,59.6 331.6,55.9 331.7,54.6 331.8,56.8 331.9,55.4 332.1,60.5 332.2,57.6 332.3,57.1 332.5,55.4 332.6,58.7 332.7,53.7 332.9,58.1 333.0,62.2 333.1,59.7 333.2,59.8 333.4,59.8 333.5,60.0 333.6,57.3 333.8,56.2 333.9,58.1 334.0,55.2 334.1,55.9 334.3,61.0 334.4,60.4 334.5,57.8 334.7,57.9 334.8,59.7 334.9,60.9 335.0,55.5 335.2,56.7 335.3,60.2 335.4,58.5 335.6,58.1 335.7,62.3 335.8,65.3 336.0,61.9 336.1,61.6 336.2,57.7 336.3,62.2 336.5,61.5 336.6,61.2 336.7,60.5 336.9,64.1 337.0,57.8 337.1,60.2 337.2,55.2 337.4,60.7 337.5,63.0 337.6,63.4 337.8,68.6 337.9,65.4 338.0,59.7 338.2,61.6 338.3,61.7 338.4,57.8 338.5,59.7 338.7,61.9 338.8,61.2 338.9,65.8 339.1,64.9 339.2,64.0 339.3,63.9 339.4,64.5 339.6,62.9 339.7,64.1 339.8,64.9 340.0,65.1 340.1,66.3 340.2,63.1 340.3,63.0 340.5,66.1 340.6,65.8 340.7,65.9 340.9,65.7 341.0,63.0 341.1,57.1 341.3,63.4 341.4,63.7 341.5,65.8 341.6,66.3 341.8,67.8 341.9,65.9 342.0,65.5 342.2,69.5 342.3,63.9 342.4,66.0 342.5,64.4 342.7,64.0 342.8,67.0 342.9,68.1 343.1,65.2 343.2,65.5 343.3,63.7 343.4,68.5 343.6,66.1 343.7,65.4 343.8,68.5 344.0,68.1 344.1,68.1 344.2,63.4 344.4,67.9 344.5,69.2 344.6,69.5 344.7,66.0 344.9,64.3 345.0,62.2 345.1,64.0 345.3,65.0 345.4,63.1 345.5,69.5 345.6,65.4 345.8,65.0 345.9,64.4 346.0,61.4 346.2,63.2 346.3,62.0 346.4,65.7 346.6,67.0 346.7,62.1 346.8,61.6 346.9,61.8 347.1,59.7 347.2,61.2 347.3,61.2 347.5,60.5 347.6,65.0 347.7,62.2 347.8,65.1 348.0,63.7 348.1,61.5 348.2,62.1 348.4,62.3 348.5,59.6 348.6,61.3 348.7,59.7 348.9,58.6 349.0,61.2 349.1,61.7 349.3,63.0 349.4,62.6 349.5,64.1 349.7,65.5 349.8,66.9 349.9,62.8 350.0,59.2 350.2,59.7 350.3,54.2 350.4,57.6 350.6,59.0 350.7,64.2 350.8,56.7 350.9,56.4 351.1,57.0 351.2,54.4 351.3,58.4 351.5,55.0 351.6,58.2 351.7,60.2 351.8,58.3 352.0,57.6 352.1,59.3 352.2,52.5 352.4,51.2 352.5,53.6 352.6,50.3 352.8,53.1 352.9,60.5 353.0,60.3 353.1,55.9 353.3,56.8 353.4,51.1 353.5,46.5 353.7,43.4 353.8,50.6 353.9,55.1 354.0,52.4 354.2,51.5 354.3,54.8 354.4,55.0 354.6,55.5 354.7,57.4 354.8,46.6 355.0,51.3 355.1,50.6 355.2,50.8 355.3,49.0 355.5,42.5 355.6,45.7 355.7,51.1 355.9,55.4 356.0,48.1 356.1,53.3 356.2,48.5 356.4,46.9 356.5,51.5 356.6,47.8 356.8,44.3 356.9,43.3 357.0,53.0 357.1,49.4 357.3,46.4 357.4,46.4 357.5,49.7 357.7,49.6 357.8,48.4 357.9,45.1 358.1,47.6 358.2,39.6 358.3,43.6 358.4,44.8 358.6,50.4 358.7,48.7 358.8,52.0 359.0,53.5 359.1,47.2 359.2,48.5 359.3,39.1 359.5,53.5 359.6,52.1 359.7,51.8 359.9,49.8 360.0,56.1 360.1,44.8 360.2,53.8 360.4,54.0 360.5,48.9 360.6,39.0 360.8,48.4 360.9,41.8 361.0,45.8 361.2,34.8 361.3,44.3 361.4,43.5 361.5,39.8 361.7,39.3 361.8,47.5 361.9,45.2 362.1,46.2 362.2,56.7 362.3,50.4 362.4,49.5 362.6,46.9 362.7,44.9 362.8,50.1 363.0,48.8 363.1,39.6 363.2,47.0 363.4,39.7 363.5,50.7 363.6,47.0 363.7,47.1 363.9,48.0 364.0,48.3 364.1,48.5 364.3,49.1 364.4,47.2 364.5,44.9 364.6,57.3 364.8,50.8 364.9,49.5 365.0,53.8 365.2,54.0 365.3,46.7 365.4,49.1 365.5,48.5 365.7,49.8 365.8,50.7 365.9,51.2 366.1,60.1 366.2,56.2 366.3,53.1 366.5,57.6 366.6,53.5 366.7,59.2 366.8,59.5 367.0,61.7 367.1,62.0 367.2,58.1 367.4,61.9 367.5,54.0 367.6,56.2 367.7,56.6 367.9,60.0 368.0,61.7 368.1,59.5 368.3,59.1 368.4,56.1 368.5,61.0 368.6,59.1 368.8,61.8 368.9,63.3 369.0,56.6 369.2,57.3 369.3,57.1 369.4,64.3 369.6,63.8 369.7,67.8 369.8,56.4 369.9,58.9 370.1,60.5 370.2,58.7 370.3,60.0 370.5,60.4 370.6,62.5 370.7,65.3 370.8,60.9 371.0,65.3 371.1,55.4 371.2,52.7 371.4,51.2 371.5,54.7 371.6,61.3 371.8,56.8 371.9,58.0 372.0,61.1 372.1,60.6 372.3,58.2 372.4,56.7 372.5,58.4 372.7,55.9 372.8,57.2 372.9,57.9 373.0,54.1 373.2,51.6 373.3,60.8 373.4,52.3 373.6,52.1 373.7,55.3 373.8,57.3 373.9,56.5 374.1,60.9 374.2,57.5 374.3,54.8 374.5,50.9 374.6,53.4 374.7,53.9 374.9,54.4 375.0,50.2 375.1,56.8 375.2,55.4 375.4,56.2 375.5,53.9 375.6,49.6 375.8,54.1 375.9,55.6 376.0,58.7 376.1,50.5 376.3,59.7 376.4,50.3 376.5,58.4 376.7,62.0 376.8,57.6 376.9,62.8 377.0,61.5 377.2,57.5 377.3,60.8 377.4,50.6 377.6,54.1 377.7,57.3 377.8,65.7 378.0,57.0 378.1,55.7 378.2,54.8 378.3,52.0 378.5,59.8 378.6,58.7 378.7,58.7 378.9,59.3 379.0,60.5 379.1,50.8 379.2,58.0 379.4,57.7 379.5,62.0 379.6,58.7 379.8,58.8 379.9,55.1 380.0,60.5 380.2,59.8 380.3,55.3 380.4,55.0 380.5,55.3 380.7,55.9 380.8,57.8 380.9,56.2 381.1,60.0 381.2,59.6 381.3,60.1 381.4,57.5 381.6,54.5 381.7,60.3 381.8,62.2 382.0,58.4 382.1,57.1 382.2,61.1 382.3,61.6 382.5,61.0 382.6,62.4 382.7,59.5 382.9,63.3 383.0,60.0 383.1,59.7 383.3,57.3 383.4,59.5 383.5,55.0 383.6,59.5 383.8,61.9 383.9,61.2 384.0,62.2 384.2,62.0 384.3,58.8 384.4,56.6 384.5,63.0 384.7,59.2 384.8,58.6 384.9,59.9 385.1,54.5 385.2,55.5 385.3,59.5 385.4,59.6 385.6,57.6 385.7,58.5 385.8,58.4 386.0,63.6 386.1,62.7 386.2,62.8 386.4,65.1 386.5,61.4 386.6,62.5 386.7,62.1 386.9,64.0 387.0,64.1" transform="translate(0,50.8)" fill="none" stroke="#10e010" stroke-width="0.6"/>
<g fill="none" stroke="#404040" stroke-width="1">
<rect x="56" y="19.5" width="331" height="101.5"/>
<line x1="56" y1="70.2" x2="387" y2="70.2"/>
</g>
<path d="M56,39.6h6.5M387,39.6h-6.5M56,59.8h6.5M387,59.8h-6.5M56,90.3h6.5M387,90.3h-6.5M56,110.5h6.5M387,110.5h-6.5M56.5,19.5v2M56.5,121v-2M79.9,19.5v1.5M79.9,121v-1.5M103.3,19.5v2M103.3,121v-2M126.7,19.5v1.5M126.7,121v-1.5M150.1,19.5v2M150.1,121v-2M173.5,19.5v1.5M173.5,121v-1.5M196.9,19.5v2M196.9,121v-2M220.3,19.5v1.5M220.3,121v-1.5M243.7,19.5v2M243.7,121v-2M267.1,19.5v1.5M267.1,121v-1.5M290.5,19.5v2M290.5,121v-2M313.9,19.5v1.5M313.9,121v-1.5M337.3,19.5v2M337.3,121v-2M360.7,19.5v1.5M360.7,121v-1.5M384.1,19.5v2M384.1,121v-2" stroke="#404040" stroke-width="1" fill="none"/>
<clipPath id="pb"><rect x="56" y="173" width="331" height="152.5"/></clipPath><g clip-path="url(#pb)"><path d="M55.00,286.20C56.17,286.03 60.20,285.58 62.00,285.20C63.80,284.82 64.72,284.95 65.80,283.90C66.88,282.85 67.30,279.92 68.50,278.90C69.70,277.88 71.42,278.20 73.00,277.80C74.58,277.40 75.83,277.38 78.00,276.50C80.17,275.62 84.00,273.42 86.00,272.50C88.00,271.58 88.83,271.25 90.00,271.00C91.17,270.75 92.00,271.00 93.00,271.00C94.00,271.00 94.75,271.03 96.00,271.00C97.25,270.97 99.17,271.30 100.50,270.80C101.83,270.30 102.42,268.55 104.00,268.00C105.58,267.45 108.33,267.67 110.00,267.50C111.67,267.33 112.33,267.17 114.00,267.00C115.67,266.83 118.17,266.58 120.00,266.50C121.83,266.42 123.67,266.50 125.00,266.50C126.33,266.50 127.00,266.33 128.00,266.50C129.00,266.67 130.00,267.08 131.00,267.50C132.00,267.92 133.00,267.58 134.00,269.00C135.00,270.42 135.17,272.58 137.00,276.00C138.83,279.42 141.67,287.08 145.00,289.50C148.33,291.92 153.33,290.22 157.00,290.50C160.67,290.78 163.50,291.08 167.00,291.20C170.50,291.32 174.17,290.97 178.00,291.20C181.83,291.43 186.17,292.47 190.00,292.60C193.83,292.73 198.03,292.55 201.00,292.00C203.97,291.45 205.00,289.85 207.80,289.30C210.60,288.75 213.35,289.08 217.80,288.70C222.25,288.32 230.97,287.37 234.50,287.00C238.03,286.63 237.58,288.63 239.00,286.50C240.42,284.37 241.83,276.12 243.00,274.20C244.17,272.28 244.50,274.80 246.00,275.00C247.50,275.20 249.17,275.53 252.00,275.40C254.83,275.27 260.33,274.52 263.00,274.20C265.67,273.88 265.02,273.40 268.00,273.50C270.98,273.60 278.15,273.15 280.90,274.80C283.65,276.45 281.82,281.52 284.50,283.40C287.18,285.28 293.08,285.65 297.00,286.10C300.92,286.55 304.83,286.32 308.00,286.10C311.17,285.88 312.33,285.63 316.00,284.80C319.67,283.97 326.67,281.87 330.00,281.10C333.33,280.33 333.50,280.43 336.00,280.20C338.50,279.97 342.20,279.13 345.00,279.70C347.80,280.27 349.63,282.95 352.80,283.60C355.97,284.25 360.30,283.78 364.00,283.60C367.70,283.42 371.00,282.53 375.00,282.50C379.00,282.47 385.83,283.25 388.00,283.40L388,326 L55,326 Z" fill="#2a0ae6"/><path d="M55.00,288.00C56.17,287.93 60.20,287.77 62.00,287.60C63.80,287.43 64.72,287.18 65.80,287.00C66.88,286.82 67.30,286.63 68.50,286.50C69.70,286.37 71.42,286.28 73.00,286.20C74.58,286.12 75.83,286.12 78.00,286.00C80.17,285.88 84.00,285.75 86.00,285.50C88.00,285.25 88.83,285.17 90.00,284.50C91.17,283.83 92.00,282.33 93.00,281.50C94.00,280.67 94.75,279.97 96.00,279.50C97.25,279.03 99.17,278.85 100.50,278.70C101.83,278.55 102.42,278.55 104.00,278.60C105.58,278.65 108.33,277.85 110.00,279.00C111.67,280.15 112.33,284.33 114.00,285.50C115.67,286.67 118.17,285.83 120.00,286.00C121.83,286.17 123.67,286.37 125.00,286.50C126.33,286.63 127.00,286.88 128.00,286.80C129.00,286.72 130.00,286.22 131.00,286.00C132.00,285.78 133.00,284.92 134.00,285.50C135.00,286.08 135.17,288.67 137.00,289.50C138.83,290.33 141.67,290.17 145.00,290.50C148.33,290.83 153.33,291.12 157.00,291.50C160.67,291.88 163.50,292.58 167.00,292.80C170.50,293.02 174.17,292.63 178.00,292.80C181.83,292.97 186.17,293.68 190.00,293.80C193.83,293.92 198.03,293.88 201.00,293.50C203.97,293.12 205.00,291.87 207.80,291.50C210.60,291.13 213.35,291.72 217.80,291.30C222.25,290.88 230.97,289.63 234.50,289.00C238.03,288.37 237.58,287.92 239.00,287.50C240.42,287.08 241.83,286.58 243.00,286.50C244.17,286.42 244.50,286.83 246.00,287.00C247.50,287.17 249.17,287.58 252.00,287.50C254.83,287.42 260.33,286.72 263.00,286.50C265.67,286.28 265.02,286.28 268.00,286.20C270.98,286.12 278.15,286.12 280.90,286.00C283.65,285.88 281.82,285.28 284.50,285.50C287.18,285.72 293.08,286.97 297.00,287.30C300.92,287.63 304.83,287.58 308.00,287.50C311.17,287.42 312.33,287.47 316.00,286.80C319.67,286.13 326.67,284.13 330.00,283.50C333.33,282.87 333.50,283.17 336.00,283.00C338.50,282.83 342.20,282.00 345.00,282.50C347.80,283.00 349.63,285.45 352.80,286.00C355.97,286.55 360.30,285.88 364.00,285.80C367.70,285.72 371.00,285.47 375.00,285.50C379.00,285.53 385.83,285.92 388.00,286.00L388,326 L55,326 Z" fill="#10eefc"/><path d="M55.00,290.20C56.17,290.13 60.20,289.92 62.00,289.80C63.80,289.68 64.72,289.63 65.80,289.50C66.88,289.37 67.30,289.17 68.50,289.00C69.70,288.83 71.42,288.67 73.00,288.50C74.58,288.33 75.83,288.17 78.00,288.00C80.17,287.83 84.00,287.67 86.00,287.50C88.00,287.33 88.83,287.22 90.00,287.00C91.17,286.78 92.00,286.53 93.00,286.20C94.00,285.87 94.75,285.37 96.00,285.00C97.25,284.63 99.17,284.28 100.50,284.00C101.83,283.72 102.42,283.38 104.00,283.30C105.58,283.22 108.33,282.88 110.00,283.50C111.67,284.12 112.33,286.33 114.00,287.00C115.67,287.67 118.17,287.33 120.00,287.50C121.83,287.67 123.67,287.87 125.00,288.00C126.33,288.13 127.00,288.30 128.00,288.30C129.00,288.30 130.00,288.13 131.00,288.00C132.00,287.87 133.00,286.33 134.00,287.50C135.00,288.67 135.17,293.70 137.00,295.00C138.83,296.30 141.67,295.47 145.00,295.30C148.33,295.13 153.33,294.22 157.00,294.00C160.67,293.78 163.50,294.00 167.00,294.00C170.50,294.00 174.17,293.90 178.00,294.00C181.83,294.10 186.17,294.53 190.00,294.60C193.83,294.67 198.03,294.58 201.00,294.40C203.97,294.22 205.00,293.70 207.80,293.50C210.60,293.30 213.35,293.37 217.80,293.20C222.25,293.03 230.97,292.95 234.50,292.50C238.03,292.05 237.58,290.87 239.00,290.50C240.42,290.13 241.83,290.30 243.00,290.30C244.17,290.30 244.50,290.30 246.00,290.50C247.50,290.70 249.17,290.92 252.00,291.50C254.83,292.08 260.33,293.53 263.00,294.00C265.67,294.47 265.02,293.85 268.00,294.30C270.98,294.75 278.15,296.25 280.90,296.70C283.65,297.15 281.82,296.95 284.50,297.00C287.18,297.05 293.08,296.92 297.00,297.00C300.92,297.08 304.83,298.17 308.00,297.50C311.17,296.83 312.33,293.47 316.00,293.00C319.67,292.53 326.67,294.42 330.00,294.70C333.33,294.98 333.50,294.70 336.00,294.70C338.50,294.70 342.20,294.82 345.00,294.70C347.80,294.58 349.63,294.62 352.80,294.00C355.97,293.38 360.30,291.58 364.00,291.00C367.70,290.42 371.00,290.50 375.00,290.50C379.00,290.50 385.83,290.92 388.00,291.00L388,326 L55,326 Z" fill="#1cfc00"/><path d="M55.00,297.60C56.17,297.63 60.20,297.73 62.00,297.80C63.80,297.87 64.72,297.95 65.80,298.00C66.88,298.05 67.30,298.08 68.50,298.10C69.70,298.12 71.42,298.13 73.00,298.10C74.58,298.07 75.83,298.00 78.00,297.90C80.17,297.80 84.00,297.82 86.00,297.50C88.00,297.18 88.83,296.67 90.00,296.00C91.17,295.33 92.00,294.45 93.00,293.50C94.00,292.55 94.75,291.30 96.00,290.30C97.25,289.30 99.17,288.12 100.50,287.50C101.83,286.88 102.42,286.72 104.00,286.60C105.58,286.48 108.33,286.52 110.00,286.80C111.67,287.08 112.33,287.97 114.00,288.30C115.67,288.63 118.17,288.63 120.00,288.80C121.83,288.97 123.67,289.02 125.00,289.30C126.33,289.58 127.00,289.80 128.00,290.50C129.00,291.20 130.00,292.53 131.00,293.50C132.00,294.47 133.00,295.75 134.00,296.30C135.00,296.85 135.17,296.77 137.00,296.80C138.83,296.83 141.67,296.70 145.00,296.50C148.33,296.30 153.33,295.75 157.00,295.60C160.67,295.45 163.50,295.60 167.00,295.60C170.50,295.60 174.17,295.57 178.00,295.60C181.83,295.63 186.17,295.82 190.00,295.80C193.83,295.78 198.03,295.67 201.00,295.50C203.97,295.33 205.00,294.98 207.80,294.80C210.60,294.62 213.35,294.53 217.80,294.40C222.25,294.27 230.97,294.10 234.50,294.00C238.03,293.90 237.58,293.82 239.00,293.80C240.42,293.78 241.83,293.87 243.00,293.90C244.17,293.93 244.50,293.82 246.00,294.00C247.50,294.18 249.17,294.50 252.00,295.00C254.83,295.50 260.33,296.58 263.00,297.00C265.67,297.42 265.02,297.08 268.00,297.50C270.98,297.92 278.15,299.17 280.90,299.50C283.65,299.83 281.82,299.42 284.50,299.50C287.18,299.58 293.08,299.83 297.00,300.00C300.92,300.17 304.83,299.92 308.00,300.50C311.17,301.08 312.33,302.88 316.00,303.50C319.67,304.12 326.67,304.07 330.00,304.20C333.33,304.33 333.50,304.25 336.00,304.30C338.50,304.35 342.20,304.42 345.00,304.50C347.80,304.58 349.63,304.68 352.80,304.80C355.97,304.92 360.30,305.08 364.00,305.20C367.70,305.32 371.00,305.45 375.00,305.50C379.00,305.55 385.83,305.50 388.00,305.50L388,326 L55,326 Z" fill="#ffa800"/><path d="M55.00,298.80C56.17,298.83 60.20,298.93 62.00,299.00C63.80,299.07 64.72,299.15 65.80,299.20C66.88,299.25 67.30,299.28 68.50,299.30C69.70,299.32 71.42,299.35 73.00,299.30C74.58,299.25 75.83,299.12 78.00,299.00C80.17,298.88 84.00,298.80 86.00,298.60C88.00,298.40 88.83,298.30 90.00,297.80C91.17,297.30 92.00,296.60 93.00,295.60C94.00,294.60 94.75,292.92 96.00,291.80C97.25,290.68 99.17,289.45 100.50,288.90C101.83,288.35 102.42,288.45 104.00,288.50C105.58,288.55 108.33,289.00 110.00,289.20C111.67,289.40 112.33,289.53 114.00,289.70C115.67,289.87 118.17,290.02 120.00,290.20C121.83,290.38 123.67,290.33 125.00,290.80C126.33,291.27 127.00,291.88 128.00,293.00C129.00,294.12 130.00,296.67 131.00,297.50C132.00,298.33 133.00,297.93 134.00,298.00C135.00,298.07 135.17,297.98 137.00,297.90C138.83,297.82 141.67,297.70 145.00,297.50C148.33,297.30 153.33,296.83 157.00,296.70C160.67,296.57 163.50,296.70 167.00,296.70C170.50,296.70 174.17,296.72 178.00,296.70C181.83,296.68 186.17,296.63 190.00,296.60C193.83,296.57 198.03,296.60 201.00,296.50C203.97,296.40 205.00,296.17 207.80,296.00C210.60,295.83 213.35,295.67 217.80,295.50C222.25,295.33 230.97,295.10 234.50,295.00C238.03,294.90 237.58,294.87 239.00,294.90C240.42,294.93 241.83,295.12 243.00,295.20C244.17,295.28 244.50,295.10 246.00,295.40C247.50,295.70 249.17,296.25 252.00,297.00C254.83,297.75 260.33,299.23 263.00,299.90C265.67,300.57 265.02,300.40 268.00,301.00C270.98,301.60 278.15,302.83 280.90,303.50C283.65,304.17 281.82,304.65 284.50,305.00C287.18,305.35 293.08,305.50 297.00,305.60C300.92,305.70 304.83,305.62 308.00,305.60C311.17,305.58 312.33,305.45 316.00,305.50C319.67,305.55 326.67,305.82 330.00,305.90C333.33,305.98 333.50,305.95 336.00,306.00C338.50,306.05 342.20,306.12 345.00,306.20C347.80,306.28 349.63,306.40 352.80,306.50C355.97,306.60 360.30,306.72 364.00,306.80C367.70,306.88 371.00,306.97 375.00,307.00C379.00,307.03 385.83,307.00 388.00,307.00L388,326 L55,326 Z" fill="#ff0000"/><rect x="56" y="323.2" width="331" height="3" fill="#ffa800"/><rect x="76" y="323.8" width="311" height="2" fill="#1cfc00"/><rect x="92" y="324.3" width="295" height="1.4" fill="#10eefc"/><rect x="112" y="324.8" width="275" height="0.8" fill="#2a0ae6"/><path d="M80.50,228.80C80.80,228.88 81.12,232.97 81.70,234.00C82.28,235.03 83.27,235.40 84.00,235.00C84.73,234.60 85.52,231.60 86.10,231.60C86.68,231.60 87.03,233.67 87.50,235.00C87.97,236.33 88.77,238.35 88.90,239.60C89.03,240.85 88.68,241.67 88.30,242.50C87.92,243.33 87.12,243.85 86.60,244.60C86.08,245.35 85.25,246.17 85.20,247.00C85.15,247.83 85.23,248.82 86.30,249.60C87.37,250.38 90.50,251.05 91.60,251.70C92.70,252.35 93.17,253.03 92.90,253.50C92.63,253.97 91.05,254.18 90.00,254.50C88.95,254.82 87.52,254.73 86.60,255.40C85.68,256.07 85.15,257.68 84.50,258.50C83.85,259.32 83.58,260.22 82.70,260.30C81.82,260.38 79.77,259.82 79.20,259.00C78.63,258.18 78.93,256.90 79.30,255.40C79.67,253.90 81.03,251.43 81.40,250.00C81.77,248.57 81.83,247.90 81.50,246.80C81.17,245.70 80.12,244.10 79.40,243.40C78.68,242.70 77.68,243.05 77.20,242.60C76.72,242.15 76.28,241.47 76.50,240.70C76.72,239.93 77.93,239.20 78.50,238.00C79.07,236.80 79.57,235.03 79.90,233.50C80.23,231.97 80.20,228.72 80.50,228.80Z" fill="#2a0ae6"/><ellipse cx="84.5" cy="239" rx="1.7" ry="3.6" fill="#10eefc"/><ellipse cx="83.3" cy="252.4" rx="1.4" ry="2.1" fill="#10eefc"/><path d="M127.30,234.80C127.80,234.73 128.48,235.62 128.60,236.90C128.72,238.18 127.67,240.45 128.00,242.50C128.33,244.55 130.07,247.35 130.60,249.20C131.13,251.05 131.53,252.22 131.20,253.60C130.87,254.98 128.88,256.38 128.60,257.50C128.32,258.62 128.78,259.08 129.50,260.30C130.22,261.52 132.82,263.43 132.90,264.80C132.98,266.17 131.08,267.43 130.00,268.50C128.92,269.57 126.40,270.00 126.40,271.20C126.40,272.40 127.57,274.63 130.00,275.70C132.43,276.77 139.17,278.38 141.00,277.60C142.83,276.82 148.17,272.10 141.00,271.00C133.83,269.90 104.57,271.43 98.00,271.00C91.43,270.57 99.93,269.23 101.60,268.40C103.27,267.57 105.85,266.60 108.00,266.00C110.15,265.40 112.50,265.75 114.50,264.80C116.50,263.85 118.55,261.78 120.00,260.30C121.45,258.82 122.77,257.75 123.20,255.90C123.63,254.05 122.98,251.25 122.60,249.20C122.22,247.15 121.08,245.00 120.90,243.60C120.72,242.20 120.72,241.85 121.50,240.80C122.28,239.75 124.63,238.30 125.60,237.30C126.57,236.30 126.80,234.87 127.30,234.80Z" fill="#2a0ae6"/><path d="M124.50,240.30C124.97,239.93 125.83,240.28 126.20,241.40C126.57,242.52 126.43,245.33 126.70,247.00C126.97,248.67 127.80,249.92 127.80,251.40C127.80,252.88 126.88,254.23 126.70,255.90C126.52,257.57 126.78,259.38 126.70,261.40C126.62,263.42 126.40,266.15 126.20,268.00C126.00,269.85 125.42,270.87 125.50,272.50C125.58,274.13 127.62,276.83 126.70,277.80C125.78,278.77 122.45,278.33 120.00,278.30C117.55,278.27 114.25,278.15 112.00,277.60C109.75,277.05 107.58,276.18 106.50,275.00C105.42,273.82 104.92,271.75 105.50,270.50C106.08,269.25 108.13,268.05 110.00,267.50C111.87,266.95 114.85,268.22 116.70,267.20C118.55,266.18 119.88,263.02 121.10,261.40C122.32,259.78 123.52,259.23 124.00,257.50C124.48,255.77 124.10,253.32 124.00,251.00C123.90,248.68 123.32,245.38 123.40,243.60C123.48,241.82 124.03,240.67 124.50,240.30Z" fill="#10eefc"/><ellipse cx="84.4" cy="282.6" rx="5.2" ry="2.3" fill="#ffffff"/><ellipse cx="102.9" cy="274.2" rx="4.2" ry="2.7" fill="#ffffff"/><ellipse cx="115.6" cy="282.2" rx="5" ry="2.3" fill="#ffffff"/><ellipse cx="75" cy="294.3" rx="6.5" ry="2.8" fill="#10eefc"/><ellipse cx="78" cy="294.6" rx="5.0" ry="1.95" fill="#2a0ae6"/><ellipse cx="78" cy="294.6" rx="2.5" ry="0.7" fill="#b8a8f0"/><path d="M133.00,271.00C133.00,268.22 133.55,274.27 136.00,275.30C138.45,276.33 144.53,276.55 147.70,277.20C150.87,277.85 153.02,278.32 155.00,279.20C156.98,280.08 159.43,281.45 159.60,282.50C159.77,283.55 157.02,284.72 156.00,285.50C154.98,286.28 153.50,286.48 153.50,287.20C153.50,287.92 154.58,289.08 156.00,289.80C157.42,290.52 165.33,291.13 162.00,291.50C158.67,291.87 140.83,295.42 136.00,292.00C131.17,288.58 133.00,273.78 133.00,271.00Z" fill="#2a0ae6"/><ellipse cx="136.6" cy="281.3" rx="5.8" ry="2.8" fill="#ffffff"/><ellipse cx="138" cy="292.8" rx="5" ry="2.6" fill="#10eefc"/><ellipse cx="138" cy="293" rx="4.75" ry="1.8" fill="#2a0ae6"/><ellipse cx="138" cy="293" rx="2.5" ry="0.8" fill="#ffffff"/><path d="M203.40,275.90C203.27,274.42 205.90,272.62 207.00,271.50C208.10,270.38 208.50,269.78 210.00,269.20C211.50,268.62 213.77,268.37 216.00,268.00C218.23,267.63 221.42,266.52 223.40,267.00C225.38,267.48 225.80,269.93 227.90,270.90C230.00,271.87 232.98,272.20 236.00,272.80C239.02,273.40 244.33,272.30 246.00,274.50C247.67,276.70 247.00,284.17 246.00,286.00C245.00,287.83 242.00,285.92 240.00,285.50C238.00,285.08 236.77,284.03 234.00,283.50C231.23,282.97 227.02,282.55 223.40,282.30C219.78,282.05 214.90,282.32 212.30,282.00C209.70,281.68 209.28,281.42 207.80,280.40C206.32,279.38 203.53,277.38 203.40,275.90Z" fill="#2a0ae6"/><path d="M210.00,272.60C211.92,271.68 217.00,270.93 220.00,271.00C223.00,271.07 224.67,272.08 228.00,273.00C231.33,273.92 236.83,275.75 240.00,276.50C243.17,277.25 245.50,276.75 247.00,277.50C248.50,278.25 250.17,280.17 249.00,281.00C247.83,281.83 243.17,282.50 240.00,282.50C236.83,282.50 232.83,281.45 230.00,281.00C227.17,280.55 226.00,280.13 223.00,279.80C220.00,279.47 214.42,279.55 212.00,279.00C209.58,278.45 208.83,277.57 208.50,276.50C208.17,275.43 208.08,273.52 210.00,272.60Z" fill="#10eefc"/><ellipse cx="243" cy="280.8" rx="6.5" ry="3" fill="#10eefc"/><ellipse cx="259" cy="283" rx="5.5" ry="2.3" fill="#ffffff"/><path d="M268.50,288.50C266.83,287.25 268.38,282.70 268.80,281.00C269.22,279.30 269.80,278.70 271.00,278.30C272.20,277.90 274.80,277.98 276.00,278.60C277.20,279.22 277.73,280.35 278.20,282.00C278.67,283.65 280.42,287.42 278.80,288.50C277.18,289.58 270.17,289.75 268.50,288.50Z" fill="#10eefc"/><ellipse cx="261.8" cy="293" rx="9.5" ry="3.1" fill="#2a0ae6"/><ellipse cx="261.8" cy="293" rx="4.5" ry="1.35" fill="#ffffff"/><ellipse cx="296.7" cy="294.5" rx="10.5" ry="3.35" fill="#2a0ae6"/><ellipse cx="296.7" cy="294.5" rx="6.0" ry="1.4" fill="#ffffff"/><ellipse cx="346" cy="292" rx="9.75" ry="3.0" fill="#2a0ae6"/><ellipse cx="346" cy="292" rx="5.0" ry="1.3" fill="#ffffff"/><ellipse cx="336.1" cy="301.4" rx="13" ry="3.6" fill="#10eefc"/><ellipse cx="336.1" cy="301.4" rx="10.0" ry="2.25" fill="#2a0ae6"/><ellipse cx="336.1" cy="301.4" rx="3.9" ry="0.85" fill="#b8a8f0"/><path d="M383.40,295.00C384.07,293.70 387.23,292.83 388.00,294.00C388.77,295.17 388.67,300.70 388.00,302.00C387.33,303.30 384.77,302.97 384.00,301.80C383.23,300.63 382.73,296.30 383.40,295.00Z" fill="#2a0ae6"/><path d="M316.70,296.70C316.03,295.75 318.70,291.87 320.00,291.00C321.30,290.13 323.83,290.55 324.50,291.50C325.17,292.45 325.30,295.83 324.00,296.70C322.70,297.57 317.37,297.65 316.70,296.70Z" fill="#1cfc00"/><path d="M85.10,306.50C85.10,305.23 87.18,303.83 92.70,303.30C98.22,302.77 108.65,303.20 118.20,303.30C127.75,303.40 139.17,303.80 150.00,303.90C160.83,304.00 173.87,303.68 183.20,303.90C192.53,304.12 201.13,304.57 206.00,305.20C210.87,305.83 212.40,306.97 212.40,307.70C212.40,308.43 216.40,309.12 206.00,309.60C195.60,310.08 168.88,310.38 150.00,310.60C131.12,310.82 103.52,311.58 92.70,310.90C81.88,310.22 85.10,307.77 85.10,306.50Z" fill="#ffa800"/><path d="M87.70,306.63C87.70,305.59 89.70,304.44 94.99,304.00C100.29,303.56 110.30,303.92 119.47,304.00C128.64,304.08 139.60,304.41 150.00,304.49C160.40,304.58 172.91,304.32 181.87,304.49C190.83,304.67 199.09,305.04 203.76,305.56C208.43,306.08 209.90,307.01 209.90,307.61C209.90,308.21 213.74,308.77 203.76,309.17C193.78,309.56 168.13,309.81 150.00,309.99C131.87,310.17 105.38,310.79 94.99,310.23C84.61,309.67 87.70,307.66 87.70,306.63Z" fill="#1cfc00"/><path d="M92.89,306.81C92.89,306.12 94.72,305.35 99.58,305.06C104.43,304.76 113.61,305.00 122.02,305.06C130.42,305.11 140.47,305.33 150.00,305.38C159.53,305.44 171.00,305.27 179.22,305.38C187.43,305.50 195.00,305.75 199.28,306.10C203.56,306.45 204.91,307.07 204.91,307.47C204.91,307.88 208.43,308.25 199.28,308.52C190.13,308.79 166.62,308.95 150.00,309.07C133.38,309.19 109.09,309.61 99.58,309.23C90.06,308.86 92.89,307.51 92.89,306.81Z" fill="#10eefc"/><ellipse cx="105.4" cy="306.6" rx="6.35" ry="1.3" fill="#2a0ae6"/><ellipse cx="105.4" cy="306.6" rx="3.0" ry="0.5" fill="#b8a8f0"/><ellipse cx="143" cy="307.6" rx="9.0" ry="1.4" fill="#2a0ae6"/><ellipse cx="143" cy="307.6" rx="4.0" ry="0.6" fill="#b8a8f0"/><ellipse cx="186.3" cy="307.0" rx="6.75" ry="1.4" fill="#2a0ae6"/><ellipse cx="186.3" cy="307.0" rx="3.0" ry="0.5" fill="#2a0ae6"/><path d="M225.90,307.70C225.90,306.18 235.03,304.10 242.30,303.20C249.57,302.30 261.55,302.42 269.50,302.30C277.45,302.18 284.08,302.22 290.00,302.50C295.92,302.78 301.17,303.33 305.00,304.00C308.83,304.67 313.83,305.58 313.00,306.50C312.17,307.42 304.67,308.62 300.00,309.50C295.33,310.38 290.08,311.32 285.00,311.80C279.92,312.28 276.62,312.32 269.50,312.40C262.38,312.48 249.57,313.08 242.30,312.30C235.03,311.52 225.90,309.22 225.90,307.70Z" fill="#ffa800"/><path d="M230.00,307.70C230.00,306.50 237.42,304.83 244.00,304.10C250.58,303.37 262.17,303.35 269.50,303.30C276.83,303.25 283.42,303.27 288.00,303.80C292.58,304.33 297.00,305.42 297.00,306.50C297.00,307.58 292.58,309.48 288.00,310.30C283.42,311.12 276.83,311.23 269.50,311.40C262.17,311.57 250.58,311.92 244.00,311.30C237.42,310.68 230.00,308.90 230.00,307.70Z" fill="#1cfc00"/><path d="M236.00,307.70C236.00,306.82 240.42,305.67 246.00,305.10C251.58,304.53 262.83,304.33 269.50,304.30C276.17,304.27 282.33,304.45 286.00,304.90C289.67,305.35 291.83,306.22 291.50,307.00C291.17,307.78 287.67,309.02 284.00,309.60C280.33,310.18 275.83,310.37 269.50,310.50C263.17,310.63 251.58,310.87 246.00,310.40C240.42,309.93 236.00,308.58 236.00,307.70Z" fill="#10eefc"/><ellipse cx="265.5" cy="307.7" rx="20.5" ry="2.9" fill="#2a0ae6"/><ellipse cx="266" cy="307.8" rx="14.5" ry="1.8" fill="#ffffff"/><ellipse cx="71.3" cy="237.3" rx="1" ry="2" fill="#2a0ae6"/><ellipse cx="56.8" cy="238.8" rx="1.3" ry="2.5" fill="#2a0ae6"/><ellipse cx="57.7" cy="268.1" rx="2.3" ry="3.3" fill="#2a0ae6"/><ellipse cx="56.6" cy="198" rx="0.9" ry="8" fill="#2a0ae6"/><path d="M175.3,220.5 L176.1,235 L174.5,235 Z" fill="#2a0ae6"/><path d="M170.00,235.00C170.95,234.20 172.73,234.03 174.00,234.20C175.27,234.37 176.87,235.03 177.60,236.00C178.33,236.97 178.37,238.58 178.40,240.00C178.43,241.42 178.20,243.50 177.80,244.50C177.40,245.50 176.97,245.78 176.00,246.00C175.03,246.22 173.17,246.22 172.00,245.80C170.83,245.38 169.62,244.63 169.00,243.50C168.38,242.37 168.13,240.42 168.30,239.00C168.47,237.58 169.05,235.80 170.00,235.00Z" fill="#2a0ae6"/><path d="M170.60,236.40C171.32,235.95 172.95,235.70 174.00,235.90C175.05,236.10 176.38,236.75 176.90,237.60C177.42,238.45 177.20,239.95 177.10,241.00C177.00,242.05 177.07,243.37 176.30,243.90C175.53,244.43 173.55,244.48 172.50,244.20C171.45,243.92 170.47,243.13 170.00,242.20C169.53,241.27 169.60,239.57 169.70,238.60C169.80,237.63 169.88,236.85 170.60,236.40Z" fill="#10eefc"/><rect x="174" y="244" width="2.8" height="5.5" fill="#2a0ae6"/><ellipse cx="175.6" cy="253.5" rx="3.9" ry="4.9" fill="#2a0ae6"/><ellipse cx="161.3" cy="225.3" rx="0.5" ry="1.5" fill="#2a0ae6"/><ellipse cx="174.6" cy="226" rx="0.5" ry="4" fill="#2a0ae6"/><path d="M216.50,229.00C216.92,228.33 218.32,230.17 219.00,232.00C219.68,233.83 220.68,238.50 220.60,240.00C220.52,241.50 219.18,241.67 218.50,241.00C217.82,240.33 216.83,238.00 216.50,236.00C216.17,234.00 216.08,229.67 216.50,229.00Z" fill="#2a0ae6"/><ellipse cx="231.6" cy="240" rx="0.7" ry="1.2" fill="#2a0ae6"/><ellipse cx="231.5" cy="255.5" rx="2.8" ry="3" fill="#2a0ae6"/><ellipse cx="265.7" cy="229" rx="0.9" ry="9" fill="#2a0ae6"/><ellipse cx="274.5" cy="238" rx="0.9" ry="4" fill="#2a0ae6"/><ellipse cx="268.6" cy="212.7" rx="0.5" ry="1" fill="#2a0ae6"/><path d="M261.00,245.00C262.03,244.17 263.58,245.83 264.50,247.00C265.42,248.17 265.58,250.50 266.50,252.00C267.42,253.50 269.00,255.92 270.00,256.00C271.00,256.08 271.67,252.83 272.50,252.50C273.33,252.17 274.25,252.92 275.00,254.00C275.75,255.08 275.95,257.67 277.00,259.00C278.05,260.33 281.13,260.95 281.30,262.00C281.47,263.05 280.55,264.80 278.00,265.30C275.45,265.80 269.25,265.72 266.00,265.00C262.75,264.28 259.78,263.17 258.50,261.00C257.22,258.83 257.88,254.67 258.30,252.00C258.72,249.33 259.97,245.83 261.00,245.00Z" fill="#2a0ae6"/><ellipse cx="262.8" cy="254.5" rx="2.8" ry="5.8" fill="#10eefc"/><ellipse cx="269.2" cy="254.5" rx="1.8" ry="3.2" fill="#ffffff"/><path d="M259.50,263.00C260.33,262.25 266.47,262.00 270.00,262.00C273.53,262.00 279.70,262.25 280.70,263.00C281.70,263.75 278.62,265.92 276.00,266.50C273.38,267.08 267.75,267.08 265.00,266.50C262.25,265.92 258.67,263.75 259.50,263.00Z" fill="#2a0ae6"/><ellipse cx="313.7" cy="216" rx="0.7" ry="6.5" fill="#2a0ae6"/><path d="M312.00,228.40C312.78,228.07 313.67,232.57 314.50,233.00C315.33,233.43 316.12,230.50 317.00,231.00C317.88,231.50 319.30,234.08 319.80,236.00C320.30,237.92 320.80,241.15 320.00,242.50C319.20,243.85 316.73,244.18 315.00,244.10C313.27,244.02 310.47,243.52 309.60,242.00C308.73,240.48 309.40,237.27 309.80,235.00C310.20,232.73 311.22,228.73 312.00,228.40Z" fill="#2a0ae6"/><ellipse cx="314.5" cy="238" rx="3.2" ry="3.8" fill="#10eefc"/><path d="M316.00,252.40C317.50,252.40 318.25,255.90 319.00,258.00C319.75,260.10 320.67,262.90 320.50,265.00C320.33,267.10 319.92,269.67 318.00,270.60C316.08,271.53 310.75,271.70 309.00,270.60C307.25,269.50 307.33,266.10 307.50,264.00C307.67,261.90 308.58,259.93 310.00,258.00C311.42,256.07 314.50,252.40 316.00,252.40Z" fill="#2a0ae6"/><ellipse cx="313.7" cy="263.3" rx="2.6" ry="3.3" fill="#10eefc"/><ellipse cx="368.2" cy="208" rx="0.6" ry="3.5" fill="#2a0ae6"/><path d="M359.20,237.50C359.72,236.68 360.87,235.45 361.70,235.60C362.53,235.75 363.95,237.25 364.20,238.40C364.45,239.55 363.30,241.12 363.20,242.50C363.10,243.88 362.47,245.17 363.60,246.70C364.73,248.23 368.63,249.78 370.00,251.70C371.37,253.62 370.90,256.65 371.80,258.20C372.70,259.75 375.70,260.50 375.40,261.00C375.10,261.50 372.00,261.73 370.00,261.20C368.00,260.67 365.90,258.50 363.40,257.80C360.90,257.10 357.40,257.30 355.00,257.00C352.60,256.70 349.55,256.63 349.00,256.00C348.45,255.37 350.42,254.33 351.70,253.20C352.98,252.07 355.45,250.70 356.70,249.20C357.95,247.70 358.88,245.65 359.20,244.20C359.52,242.75 358.60,241.62 358.60,240.50C358.60,239.38 358.68,238.32 359.20,237.50Z" fill="#2a0ae6"/><path d="M358.40,252.50C358.57,251.30 359.82,249.27 361.00,248.60C362.18,247.93 364.13,247.85 365.50,248.50C366.87,249.15 368.95,251.28 369.20,252.50C369.45,253.72 368.53,255.25 367.00,255.80C365.47,256.35 361.43,256.35 360.00,255.80C358.57,255.25 358.23,253.70 358.40,252.50Z" fill="#10eefc"/><ellipse cx="361.9" cy="242.8" rx="0.9" ry="1.8" fill="#ffffff"/><path d="M370.00,271.00C370.68,269.43 373.65,266.53 375.90,265.10C378.15,263.67 381.48,262.75 383.50,262.40C385.52,262.05 387.25,260.70 388.00,263.00C388.75,265.30 389.60,274.13 388.00,276.20C386.40,278.27 381.10,275.68 378.40,275.40C375.70,275.12 373.20,275.23 371.80,274.50C370.40,273.77 369.32,272.57 370.00,271.00Z" fill="#2a0ae6"/><path d="M377.60,270.00C377.52,268.88 378.77,267.00 380.50,266.30C382.23,265.60 386.75,264.72 388.00,265.80C389.25,266.88 389.17,271.60 388.00,272.80C386.83,274.00 382.73,273.47 381.00,273.00C379.27,272.53 377.68,271.12 377.60,270.00Z" fill="#10eefc"/></g>
<clipPath id="coi"><path d="M56,173 L56.25,183.16 L56.27,184.60 L56.28,186.04 L56.30,187.48 L56.32,188.92 L56.33,190.36 L56.35,191.80 L56.38,193.23 L56.40,194.67 L56.42,196.11 L56.45,197.55 L56.47,198.99 L56.50,200.43 L56.53,201.87 L56.57,203.31 L56.60,204.75 L56.64,206.19 L56.67,207.63 L56.71,209.07 L56.76,210.50 L56.80,211.94 L56.85,213.38 L56.90,214.82 L56.95,216.26 L57.01,217.70 L57.07,219.14 L57.14,220.58 L57.21,222.02 L57.28,223.46 L57.35,224.90 L57.44,226.34 L57.52,227.77 L57.61,229.21 L57.71,230.65 L57.81,232.09 L57.92,233.53 L58.04,234.97 L58.16,236.41 L58.29,237.85 L58.43,239.29 L58.57,240.73 L58.73,242.17 L58.89,243.61 L59.06,245.04 L59.25,246.48 L59.44,247.92 L59.65,249.36 L59.87,250.80 L60.10,252.24 L60.34,253.68 L60.61,255.12 L60.88,256.56 L61.17,258.00 L61.48,259.44 L61.81,260.88 L62.16,262.31 L62.53,263.75 L62.92,265.19 L63.34,266.63 L63.78,268.07 L64.25,269.51 L64.74,270.95 L65.27,272.39 L65.82,273.83 L66.41,275.27 L67.04,276.71 L67.70,278.15 L68.40,279.59 L69.14,281.02 L69.93,282.46 L70.77,283.90 L71.66,285.34 L72.59,286.78 L73.59,288.22 L74.65,289.66 L75.76,291.10 L76.95,292.54 L78.21,293.98 L79.54,295.42 L80.95,296.86 L82.45,298.29 L84.04,299.73 L85.72,301.17 L87.50,302.61 L89.39,304.05 L91.39,305.49 L93.52,306.93 L95.77,308.37 L98.16,309.81 L100.69,311.25 L103.37,312.69 L106.21,314.13 L109.22,315.56 L112.41,317.00 L115.80,318.44 L119.39,319.88 L123.19,321.32 L127.22,322.76 L131.49,324.20 L136.02,325.64 L56,326 Z"/><path d="M387,173 L386.75,183.16 L386.74,184.60 L386.72,186.04 L386.70,187.48 L386.68,188.92 L386.67,190.36 L386.65,191.80 L386.62,193.23 L386.60,194.67 L386.58,196.11 L386.55,197.55 L386.53,198.99 L386.50,200.43 L386.47,201.87 L386.43,203.31 L386.40,204.75 L386.36,206.19 L386.33,207.63 L386.29,209.07 L386.24,210.50 L386.20,211.94 L386.15,213.38 L386.10,214.82 L386.05,216.26 L385.99,217.70 L385.93,219.14 L385.86,220.58 L385.79,222.02 L385.72,223.46 L385.65,224.90 L385.56,226.34 L385.48,227.77 L385.39,229.21 L385.29,230.65 L385.19,232.09 L385.08,233.53 L384.96,234.97 L384.84,236.41 L384.71,237.85 L384.57,239.29 L384.43,240.73 L384.27,242.17 L384.11,243.61 L383.94,245.04 L383.75,246.48 L383.56,247.92 L383.35,249.36 L383.13,250.80 L382.90,252.24 L382.66,253.68 L382.39,255.12 L382.12,256.56 L381.83,258.00 L381.52,259.44 L381.19,260.88 L380.84,262.31 L380.47,263.75 L380.08,265.19 L379.66,266.63 L379.22,268.07 L378.75,269.51 L378.26,270.95 L377.73,272.39 L377.18,273.83 L376.59,275.27 L375.96,276.71 L375.30,278.15 L374.60,279.59 L373.86,281.02 L373.07,282.46 L372.23,283.90 L371.34,285.34 L370.41,286.78 L369.41,288.22 L368.35,289.66 L367.24,291.10 L366.05,292.54 L364.79,293.98 L363.46,295.42 L362.05,296.86 L360.55,298.29 L358.96,299.73 L357.28,301.17 L355.50,302.61 L353.61,304.05 L351.61,305.49 L349.48,306.93 L347.23,308.37 L344.84,309.81 L342.31,311.25 L339.63,312.69 L336.79,314.13 L333.78,315.56 L330.59,317.00 L327.20,318.44 L323.61,319.88 L319.81,321.32 L315.78,322.76 L311.51,324.20 L306.98,325.64 L302.17,327.08 L387,326 Z"/></clipPath><g clip-path="url(#pb)"><path d="M-650.0,173 L-803.0,326M649.0,173 L802.0,326M-626.0,173 L-779.0,326M625.0,173 L778.0,326M-602.0,173 L-755.0,326M601.0,173 L754.0,326M-578.0,173 L-731.0,326M577.0,173 L730.0,326M-554.0,173 L-707.0,326M553.0,173 L706.0,326M-530.0,173 L-683.0,326M529.0,173 L682.0,326M-506.0,173 L-659.0,326M505.0,173 L658.0,326M-482.0,173 L-635.0,326M481.0,173 L634.0,326M-458.0,173 L-611.0,326M457.0,173 L610.0,326M-434.0,173 L-587.0,326M433.0,173 L586.0,326M-410.0,173 L-563.0,326M409.0,173 L562.0,326M-386.0,173 L-539.0,326M385.0,173 L538.0,326M-362.0,173 L-515.0,326M361.0,173 L514.0,326M-338.0,173 L-491.0,326M337.0,173 L490.0,326M-314.0,173 L-467.0,326M313.0,173 L466.0,326M-290.0,173 L-443.0,326M289.0,173 L442.0,326M-266.0,173 L-419.0,326M265.0,173 L418.0,326M-242.0,173 L-395.0,326M241.0,173 L394.0,326M-218.0,173 L-371.0,326M217.0,173 L370.0,326M-194.0,173 L-347.0,326M193.0,173 L346.0,326M-170.0,173 L-323.0,326M169.0,173 L322.0,326M-146.0,173 L-299.0,326M145.0,173 L298.0,326M-122.0,173 L-275.0,326M121.0,173 L274.0,326M-98.0,173 L-251.0,326M97.0,173 L250.0,326M-74.0,173 L-227.0,326M73.0,173 L226.0,326M-50.0,173 L-203.0,326M49.0,173 L202.0,326M-26.0,173 L-179.0,326M25.0,173 L178.0,326M-2.0,173 L-155.0,326M1.0,173 L154.0,326M22.0,173 L-131.0,326M-23.0,173 L130.0,326M46.0,173 L-107.0,326M-47.0,173 L106.0,326M70.0,173 L-83.0,326M-71.0,173 L82.0,326M94.0,173 L-59.0,326M-95.0,173 L58.0,326M118.0,173 L-35.0,326M-119.0,173 L34.0,326M142.0,173 L-11.0,326M-143.0,173 L10.0,326M166.0,173 L13.0,326M-167.0,173 L-14.0,326M190.0,173 L37.0,326M-191.0,173 L-38.0,326M214.0,173 L61.0,326M-215.0,173 L-62.0,326M238.0,173 L85.0,326M-239.0,173 L-86.0,326M262.0,173 L109.0,326M-263.0,173 L-110.0,326M286.0,173 L133.0,326M-287.0,173 L-134.0,326M310.0,173 L157.0,326M-311.0,173 L-158.0,326M334.0,173 L181.0,326M-335.0,173 L-182.0,326M358.0,173 L205.0,326M-359.0,173 L-206.0,326M382.0,173 L229.0,326M-383.0,173 L-230.0,326M406.0,173 L253.0,326M-407.0,173 L-254.0,326M430.0,173 L277.0,326M-431.0,173 L-278.0,326M454.0,173 L301.0,326M-455.0,173 L-302.0,326M478.0,173 L325.0,326M-479.0,173 L-326.0,326M502.0,173 L349.0,326M-503.0,173 L-350.0,326M526.0,173 L373.0,326M-527.0,173 L-374.0,326M550.0,173 L397.0,326M-551.0,173 L-398.0,326M574.0,173 L421.0,326M-575.0,173 L-422.0,326M598.0,173 L445.0,326M-599.0,173 L-446.0,326M622.0,173 L469.0,326M-623.0,173 L-470.0,326M646.0,173 L493.0,326M-647.0,173 L-494.0,326M670.0,173 L517.0,326M-671.0,173 L-518.0,326M694.0,173 L541.0,326M-695.0,173 L-542.0,326M718.0,173 L565.0,326M-719.0,173 L-566.0,326M742.0,173 L589.0,326M-743.0,173 L-590.0,326M766.0,173 L613.0,326M-767.0,173 L-614.0,326" clip-path="url(#coi)" stroke="#111" stroke-width="0.6" fill="none"/><path d="M56.25,183.16 L56.27,184.60 L56.28,186.04 L56.30,187.48 L56.32,188.92 L56.33,190.36 L56.35,191.80 L56.38,193.23 L56.40,194.67 L56.42,196.11 L56.45,197.55 L56.47,198.99 L56.50,200.43 L56.53,201.87 L56.57,203.31 L56.60,204.75 L56.64,206.19 L56.67,207.63 L56.71,209.07 L56.76,210.50 L56.80,211.94 L56.85,213.38 L56.90,214.82 L56.95,216.26 L57.01,217.70 L57.07,219.14 L57.14,220.58 L57.21,222.02 L57.28,223.46 L57.35,224.90 L57.44,226.34 L57.52,227.77 L57.61,229.21 L57.71,230.65 L57.81,232.09 L57.92,233.53 L58.04,234.97 L58.16,236.41 L58.29,237.85 L58.43,239.29 L58.57,240.73 L58.73,242.17 L58.89,243.61 L59.06,245.04 L59.25,246.48 L59.44,247.92 L59.65,249.36 L59.87,250.80 L60.10,252.24 L60.34,253.68 L60.61,255.12 L60.88,256.56 L61.17,258.00 L61.48,259.44 L61.81,260.88 L62.16,262.31 L62.53,263.75 L62.92,265.19 L63.34,266.63 L63.78,268.07 L64.25,269.51 L64.74,270.95 L65.27,272.39 L65.82,273.83 L66.41,275.27 L67.04,276.71 L67.70,278.15 L68.40,279.59 L69.14,281.02 L69.93,282.46 L70.77,283.90 L71.66,285.34 L72.59,286.78 L73.59,288.22 L74.65,289.66 L75.76,291.10 L76.95,292.54 L78.21,293.98 L79.54,295.42 L80.95,296.86 L82.45,298.29 L84.04,299.73 L85.72,301.17 L87.50,302.61 L89.39,304.05 L91.39,305.49 L93.52,306.93 L95.77,308.37 L98.16,309.81 L100.69,311.25 L103.37,312.69 L106.21,314.13 L109.22,315.56 L112.41,317.00 L115.80,318.44 L119.39,319.88 L123.19,321.32 L127.22,322.76 L131.49,324.20 L136.02,325.64" stroke="#111" stroke-width="0.6" fill="none"/><path d="M386.75,183.16 L386.74,184.60 L386.72,186.04 L386.70,187.48 L386.68,188.92 L386.67,190.36 L386.65,191.80 L386.62,193.23 L386.60,194.67 L386.58,196.11 L386.55,197.55 L386.53,198.99 L386.50,200.43 L386.47,201.87 L386.43,203.31 L386.40,204.75 L386.36,206.19 L386.33,207.63 L386.29,209.07 L386.24,210.50 L386.20,211.94 L386.15,213.38 L386.10,214.82 L386.05,216.26 L385.99,217.70 L385.93,219.14 L385.86,220.58 L385.79,222.02 L385.72,223.46 L385.65,224.90 L385.56,226.34 L385.48,227.77 L385.39,229.21 L385.29,230.65 L385.19,232.09 L385.08,233.53 L384.96,234.97 L384.84,236.41 L384.71,237.85 L384.57,239.29 L384.43,240.73 L384.27,242.17 L384.11,243.61 L383.94,245.04 L383.75,246.48 L383.56,247.92 L383.35,249.36 L383.13,250.80 L382.90,252.24 L382.66,253.68 L382.39,255.12 L382.12,256.56 L381.83,258.00 L381.52,259.44 L381.19,260.88 L380.84,262.31 L380.47,263.75 L380.08,265.19 L379.66,266.63 L379.22,268.07 L378.75,269.51 L378.26,270.95 L377.73,272.39 L377.18,273.83 L376.59,275.27 L375.96,276.71 L375.30,278.15 L374.60,279.59 L373.86,281.02 L373.07,282.46 L372.23,283.90 L371.34,285.34 L370.41,286.78 L369.41,288.22 L368.35,289.66 L367.24,291.10 L366.05,292.54 L364.79,293.98 L363.46,295.42 L362.05,296.86 L360.55,298.29 L358.96,299.73 L357.28,301.17 L355.50,302.61 L353.61,304.05 L351.61,305.49 L349.48,306.93 L347.23,308.37 L344.84,309.81 L342.31,311.25 L339.63,312.69 L336.79,314.13 L333.78,315.56 L330.59,317.00 L327.20,318.44 L323.61,319.88 L319.81,321.32 L315.78,322.76 L311.51,324.20 L306.98,325.64 L302.17,327.08" stroke="#111" stroke-width="0.6" fill="none"/></g>
<rect x="56" y="173" width="331" height="152.5" fill="none" stroke="#404040" stroke-width="1"/>
<path d="M56,189.3h6.5M387,189.3h-6.5M56,226.5h6.5M387,226.5h-6.5M56,236.5h6.5M387,236.5h-6.5M56,253.6h6.5M387,253.6h-6.5M56,273.3h6.5M387,273.3h-6.5M56,283.3h6.5M387,283.3h-6.5M56,300.8h6.5M387,300.8h-6.5M56,317.9h6.5M387,317.9h-6.5M56.5,173v2.5M56.5,325v-2.5M79.9,173v2M79.9,325v-2M103.3,173v2.5M103.3,325v-2.5M126.7,173v2M126.7,325v-2M150.1,173v2.5M150.1,325v-2.5M173.5,173v2M173.5,325v-2M196.9,173v2.5M196.9,325v-2.5M220.3,173v2M220.3,325v-2M243.7,173v2.5M243.7,325v-2.5M267.1,173v2M267.1,325v-2M290.5,173v2.5M290.5,325v-2.5M313.9,173v2M313.9,325v-2M337.3,173v2.5M337.3,325v-2.5M360.7,173v2M360.7,325v-2M384.1,173v2.5M384.1,325v-2.5" stroke="#404040" stroke-width="1" fill="none"/>
<g stroke="#000" stroke-width="0.8">
<path d="M66.8,180.1 L71.8,177.7 V182.5 Z" fill="#fff"/>
<rect x="71.8" y="177.7" width="20" height="4.8" fill="#3010e0"/>
<rect x="91.8" y="177.7" width="19.4" height="4.8" fill="#10d0f0"/>
<rect x="111.2" y="177.7" width="19.3" height="4.8" fill="#10e010"/>
<rect x="130.5" y="177.7" width="19.3" height="4.8" fill="#ffa000"/>
<path d="M149.8,177.7 L155.5,180.1 L149.8,182.5 Z" fill="#ff0000"/>
</g>
<path d="M427.2,184.5 L427.6,186.5 L428.8,188.5 L430.7,193.4 L432.1,203.1 L433.6,214.8 L435.2,226.5 L437.5,231.4 L442.4,233.4 L448.4,235.4 L455.1,239.2 L448.4,242.6 L441.9,245.9 L442.8,247.8 L449.3,250.1 L456.0,252.6 L458.5,254.3 L453.6,257.6 L452.6,260.1 L453.2,266.4 L455.9,269.1 L461.4,271.3 L485.9,277.8 L468.6,282.2 L479.5,284.0 L500.0,285.6 L536.8,286.9" fill="none" stroke="#000" stroke-width="0.9" stroke-linejoin="round"/><path d="M451.80,173.00C452.00,177.50 452.55,190.50 453.00,200.00C453.45,209.50 453.72,220.00 454.50,230.00C455.28,240.00 456.70,253.17 457.70,260.00C458.70,266.83 459.70,267.55 460.50,271.00C461.30,274.45 461.82,277.35 462.50,280.70C463.18,284.05 463.78,288.20 464.60,291.10C465.42,294.00 466.35,295.77 467.40,298.10C468.45,300.43 469.73,302.67 470.90,305.10C472.07,307.53 473.12,310.27 474.40,312.70C475.68,315.13 477.33,317.72 478.60,319.70C479.87,321.68 481.43,323.78 482.00,324.60" fill="none" stroke="#000" stroke-width="1" stroke-dasharray="1 3"/><path d="M426.5,236.7 H437" stroke="#ff2020" stroke-width="0.9"/><path d="M435.9,233 L446,236.7 L435.9,240.4 Z" fill="#ff0000"/><path d="M426.5,253.9 H444" stroke="#ff2020" stroke-width="0.9"/><path d="M442.6,250.3 L452.7,253.9 L442.6,257.6 Z" fill="#ff0000"/>
<path d="M426.7,173 V325 H537.5" fill="none" stroke="#404040" stroke-width="1"/>
<path d="M426.7,172.2h3M426.7,189.3h3M426.7,226.5h3M426.7,236.5h3M426.7,253.6h3M426.7,273.3h3M426.7,283.3h3M426.7,300.8h3M426.7,317.9h3M455,325v-3M482.2,325v-3M510,325v-3M537.5,325v-3" stroke="#404040" stroke-width="1" fill="none"/>
<g stroke="#000" stroke-width="0.15"><text x="60.48" y="12.70" font-size="16.4" textLength="321.21" lengthAdjust="spacingAndGlyphs">a) Es layer (daily) from COSMIC (60°N-90°N)</text><text x="64.52" y="33.20" font-size="16.2" textLength="180.09" lengthAdjust="spacingAndGlyphs">original data time series</text><text x="65.29" y="84.40" font-size="16.2" textLength="190.53" lengthAdjust="spacingAndGlyphs">reconstructed time series</text><text x="146.95" y="165.70" font-size="15.8" textLength="149.97" lengthAdjust="spacingAndGlyphs">b) Wavelet Spectrum</text><text x="442.86" y="165.70" font-size="15.8" textLength="77.91" lengthAdjust="spacingAndGlyphs">c) Average</text><text x="44.78" y="26.50" font-size="12.8" textLength="7.47" lengthAdjust="spacingAndGlyphs">5</text><text x="44.64" y="43.60" font-size="12.8" textLength="7.47" lengthAdjust="spacingAndGlyphs">4</text><text x="44.85" y="64.30" font-size="12.8" textLength="7.47" lengthAdjust="spacingAndGlyphs">3</text><text x="44.78" y="77.50" font-size="12.8" textLength="7.47" lengthAdjust="spacingAndGlyphs">5</text><text x="44.64" y="94.60" font-size="12.8" textLength="7.47" lengthAdjust="spacingAndGlyphs">4</text><text x="44.85" y="114.70" font-size="12.8" textLength="7.47" lengthAdjust="spacingAndGlyphs">3</text><text x="88.75" y="137.30" font-size="12.8" textLength="28.97" lengthAdjust="spacingAndGlyphs">2008</text><text x="182.26" y="137.30" font-size="12.8" textLength="28.55" lengthAdjust="spacingAndGlyphs">2010</text><text x="275.64" y="137.30" font-size="12.8" textLength="29.42" lengthAdjust="spacingAndGlyphs">2012</text><text x="369.24" y="137.30" font-size="12.8" textLength="29.46" lengthAdjust="spacingAndGlyphs">2014</text><text x="190.35" y="151.29" font-size="12.4" textLength="64.07" lengthAdjust="spacingAndGlyphs">Time (year)</text><text x="88.24" y="342.30" font-size="12.8" textLength="29.18" lengthAdjust="spacingAndGlyphs">2008</text><text x="182.37" y="342.30" font-size="12.8" textLength="27.93" lengthAdjust="spacingAndGlyphs">2010</text><text x="275.84" y="342.30" font-size="12.8" textLength="29.31" lengthAdjust="spacingAndGlyphs">2012</text><text x="369.26" y="342.30" font-size="12.8" textLength="28.52" lengthAdjust="spacingAndGlyphs">2014</text><text x="189.65" y="355.29" font-size="12.4" textLength="64.07" lengthAdjust="spacingAndGlyphs">Time (year)</text><text transform="translate(35.00,102.79) rotate(-90)" x="0" y="0" font-size="12.2" textLength="63.52" lengthAdjust="spacingAndGlyphs">foEs (MHz)</text><text transform="translate(10.90,286.50) rotate(-90)" x="0" y="0" font-size="13.2" textLength="74.68" lengthAdjust="spacingAndGlyphs">Period (days)</text><text x="45.66" y="180.20" font-size="12" textLength="7.09" lengthAdjust="spacingAndGlyphs">1</text><text x="413.86" y="180.20" font-size="12" textLength="7.09" lengthAdjust="spacingAndGlyphs">1</text><text x="45.66" y="194.30" font-size="12" textLength="7.09" lengthAdjust="spacingAndGlyphs">2</text><text x="413.86" y="194.30" font-size="12" textLength="7.09" lengthAdjust="spacingAndGlyphs">2</text><text x="45.60" y="231.30" font-size="12" textLength="7.09" lengthAdjust="spacingAndGlyphs">9</text><text x="413.80" y="231.30" font-size="12" textLength="7.09" lengthAdjust="spacingAndGlyphs">9</text><text x="27.82" y="241.10" font-size="12" textLength="24.81" lengthAdjust="spacingAndGlyphs">13.5</text><text x="396.02" y="241.10" font-size="12" textLength="24.81" lengthAdjust="spacingAndGlyphs">13.5</text><text x="38.59" y="257.80" font-size="12" textLength="14.18" lengthAdjust="spacingAndGlyphs">27</text><text x="406.79" y="257.80" font-size="12" textLength="14.18" lengthAdjust="spacingAndGlyphs">27</text><text x="38.46" y="277.70" font-size="12" textLength="14.18" lengthAdjust="spacingAndGlyphs">60</text><text x="406.66" y="277.70" font-size="12" textLength="14.18" lengthAdjust="spacingAndGlyphs">60</text><text x="38.46" y="287.50" font-size="12" textLength="14.18" lengthAdjust="spacingAndGlyphs">90</text><text x="406.66" y="287.50" font-size="12" textLength="14.18" lengthAdjust="spacingAndGlyphs">90</text><text x="20.74" y="305.30" font-size="12" textLength="31.90" lengthAdjust="spacingAndGlyphs">182.5</text><text x="388.94" y="305.30" font-size="12" textLength="31.90" lengthAdjust="spacingAndGlyphs">182.5</text><text x="31.39" y="322.20" font-size="12" textLength="21.27" lengthAdjust="spacingAndGlyphs">365</text><text x="399.59" y="322.20" font-size="12" textLength="21.27" lengthAdjust="spacingAndGlyphs">365</text><text x="64.45" y="196.30" font-size="10.2" textLength="15.61" lengthAdjust="spacingAndGlyphs">0.2</text><text x="84.07" y="196.30" font-size="10.2" textLength="15.07" lengthAdjust="spacingAndGlyphs">0.5</text><text x="108.47" y="196.30" font-size="10.2" textLength="4.66" lengthAdjust="spacingAndGlyphs">1</text><text x="126.88" y="196.30" font-size="10.2" textLength="6.85" lengthAdjust="spacingAndGlyphs">2</text><text x="146.28" y="196.30" font-size="10.2" textLength="7.22" lengthAdjust="spacingAndGlyphs">3</text><text x="94.79" y="208.30" font-size="10.2" textLength="28.28" lengthAdjust="spacingAndGlyphs">(MHz</text><text x="122.38" y="204.95" font-size="4.5" textLength="2.44" lengthAdjust="spacingAndGlyphs">2</text><text x="124.52" y="208.30" font-size="10.2" textLength="2.56" lengthAdjust="spacingAndGlyphs">)</text><text x="414.09" y="342.20" font-size="11.6" textLength="24.94" lengthAdjust="spacingAndGlyphs">0.00</text><text x="469.29" y="342.20" font-size="11.6" textLength="24.73" lengthAdjust="spacingAndGlyphs">0.25</text><text x="523.99" y="342.20" font-size="11.6" textLength="24.94" lengthAdjust="spacingAndGlyphs">0.50</text><text x="442.58" y="355.40" font-size="12.3" textLength="70.06" lengthAdjust="spacingAndGlyphs">Power (MHz</text><text x="511.91" y="348.70" font-size="7" textLength="5.50" lengthAdjust="spacingAndGlyphs">2</text><text x="518.09" y="355.40" font-size="12.3" textLength="3.59" lengthAdjust="spacingAndGlyphs">)</text><text x="470.21" y="308.40" font-size="11.6" textLength="26.27" lengthAdjust="spacingAndGlyphs">95%</text></g>
</svg></body></html>
